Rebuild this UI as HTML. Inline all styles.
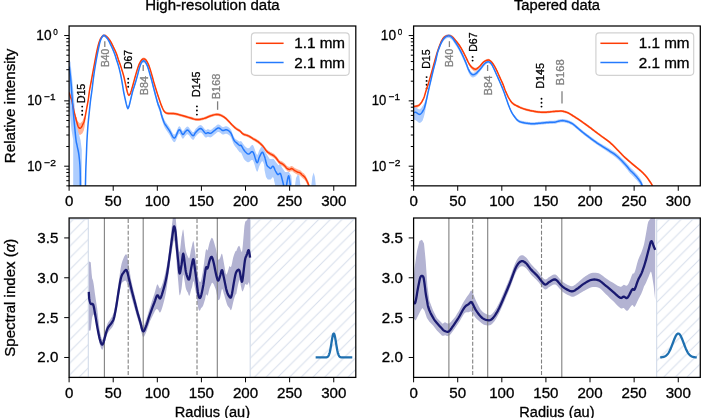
<!DOCTYPE html><html><head><meta charset="utf-8"><style>html,body{margin:0;padding:0;background:#fff;}svg{display:block;will-change:transform;}svg text{font-family:"Liberation Sans",sans-serif;}</style></head><body>
<svg width="701" height="418" viewBox="0 0 701 418">
<defs>
<clipPath id="ctl"><rect x="69.1" y="26" width="286.7" height="159.85"/></clipPath>
<clipPath id="ctr"><rect x="413.6" y="26" width="286.7" height="159.85"/></clipPath>
<clipPath id="cbl"><rect x="69.1" y="218" width="286.7" height="159.4"/></clipPath>
<clipPath id="cbr"><rect x="413.6" y="218" width="286.7" height="159.4"/></clipPath>
<pattern id="hatch" patternUnits="userSpaceOnUse" x="0.4" y="0" width="11.69" height="11.69">
<path d="M-1 12.69 L12.69 -1 M-1 1 L1 -1 M10.69 12.69 L12.69 10.69" stroke="#d6deeb" stroke-width="1.0" fill="none"/>
</pattern>
</defs>
<rect width="701" height="418" fill="#fff"/>
<circle cx="82.2" cy="106.6" r="0.95" fill="#000"/><circle cx="82.2" cy="110.7" r="0.95" fill="#000"/><circle cx="82.2" cy="114.8" r="0.95" fill="#000"/>
<line x1="104.8" y1="41.2" x2="104.8" y2="47" stroke="#808080" stroke-width="1.3"/>
<circle cx="128.2" cy="78.7" r="0.95" fill="#000"/><circle cx="128.2" cy="82.75" r="0.95" fill="#000"/><circle cx="128.2" cy="86.8" r="0.95" fill="#000"/>
<line x1="143.2" y1="65" x2="143.2" y2="71" stroke="#808080" stroke-width="1.3"/>
<circle cx="196.9" cy="106.4" r="0.95" fill="#000"/><circle cx="196.9" cy="110.5" r="0.95" fill="#000"/><circle cx="196.9" cy="114.6" r="0.95" fill="#000"/>
<line x1="217.6" y1="101.3" x2="217.6" y2="109.8" stroke="#808080" stroke-width="1.3"/>
<circle cx="426.6" cy="77.1" r="0.95" fill="#000"/><circle cx="426.6" cy="80.9" r="0.95" fill="#000"/><circle cx="426.6" cy="84.7" r="0.95" fill="#000"/><circle cx="426.6" cy="88.5" r="0.95" fill="#000"/>
<line x1="449.4" y1="41.2" x2="449.4" y2="47" stroke="#808080" stroke-width="1.3"/>
<circle cx="472.6" cy="56.9" r="0.95" fill="#000"/><circle cx="472.6" cy="60.6" r="0.95" fill="#000"/>
<line x1="487.6" y1="65" x2="487.6" y2="71" stroke="#808080" stroke-width="1.3"/>
<circle cx="541.5" cy="98.8" r="0.95" fill="#000"/><circle cx="541.5" cy="102.7" r="0.95" fill="#000"/><circle cx="541.5" cy="106.6" r="0.95" fill="#000"/>
<line x1="562" y1="91.3" x2="562" y2="103.4" stroke="#808080" stroke-width="1.3"/>
<g clip-path="url(#ctl)">
<path d="M75.3 117 L76.3 125 L77.3 130.8 L78.8 134.2 L80.4 134.7 L82.3 133.6 L83.8 130.6 L84.8 125.5 L85.6 118 L84 117 L82.5 121 L80 123.5 L77.5 121 L76.5 117 Z" fill="#ffb499"/>
<path d="M69.1 90.99 L69.29 91.6 L69.56 92.47 L69.88 93.47 L70.2 94.47 L70.5 95.35 L70.75 95.98 L70.99 96.45 L71.23 96.94 L71.49 97.63 L71.8 98.72 L72.18 100.38 L72.62 102.49 L73.07 104.78 L73.51 106.97 L73.9 108.81 L74.23 110.17 L74.52 111.27 L74.78 112.23 L75.04 113.13 L75.3 114.07 L75.56 115.02 L75.81 115.95 L76.06 116.85 L76.32 117.74 L76.6 118.63 L76.9 119.58 L77.22 120.65 L77.55 121.73 L77.88 122.7 L78.2 123.5 L78.52 124.11 L78.84 124.6 L79.15 124.96 L79.47 125.19 L79.8 125.3 L80.14 125.29 L80.48 125.17 L80.83 124.93 L81.17 124.61 L81.5 124.25 L81.82 123.81 L82.13 123.26 L82.44 122.67 L82.73 122.06 L83 121.5 L83.24 121.06 L83.46 120.68 L83.67 120.28 L83.88 119.79 L84.1 119.17 L84.34 118.36 L84.58 117.4 L84.83 116.37 L85.07 115.3 L85.3 114.27 L85.51 113.25 L85.71 112.22 L85.91 111.18 L86.1 110.11 L86.3 109.02 L86.5 107.93 L86.7 106.83 L86.91 105.73 L87.11 104.65 L87.3 103.6 L87.48 102.66 L87.64 101.83 L87.81 100.97 L87.99 99.96 L88.2 98.67 L88.45 96.97 L88.72 94.97 L89.01 92.82 L89.31 90.7 L89.6 88.77 L89.88 87.13 L90.16 85.65 L90.44 84.19 L90.75 82.62 L91.1 80.8 L91.5 78.64 L91.93 76.25 L92.39 73.74 L92.86 71.21 L93.3 68.79 L93.73 66.46 L94.16 64.14 L94.58 61.86 L94.99 59.63 L95.4 57.49 L95.79 55.43 L96.16 53.43 L96.54 51.5 L96.91 49.65 L97.3 47.89 L97.71 46.18 L98.13 44.54 L98.55 42.98 L98.98 41.55 L99.4 40.28 L99.82 39.19 L100.23 38.25 L100.64 37.43 L101.06 36.72 L101.5 36.08 L101.96 35.5 L102.43 35.01 L102.91 34.61 L103.4 34.33 L103.9 34.17 L104.4 34.17 L104.92 34.3 L105.44 34.54 L105.96 34.87 L106.5 35.27 L107.06 35.75 L107.63 36.34 L108.21 36.99 L108.78 37.68 L109.3 38.36 L109.78 39.04 L110.23 39.74 L110.66 40.46 L111.08 41.2 L111.5 41.96 L111.92 42.75 L112.32 43.58 L112.72 44.42 L113.12 45.25 L113.5 46.06 L113.88 46.82 L114.24 47.55 L114.6 48.28 L114.96 49.01 L115.3 49.75 L115.63 50.5 L115.95 51.24 L116.27 51.99 L116.58 52.79 L116.9 53.65 L117.22 54.61 L117.54 55.65 L117.87 56.73 L118.19 57.78 L118.5 58.75 L118.81 59.62 L119.12 60.44 L119.43 61.23 L119.72 61.99 L120 62.74 L120.24 63.42 L120.45 64.01 L120.66 64.63 L120.89 65.37 L121.2 66.34 L121.6 67.63 L122.07 69.15 L122.57 70.8 L123.06 72.46 L123.5 74.04 L123.89 75.54 L124.25 77.03 L124.58 78.5 L124.9 79.91 L125.2 81.23 L125.47 82.46 L125.72 83.6 L125.95 84.69 L126.17 85.72 L126.4 86.73 L126.62 87.73 L126.84 88.69 L127.06 89.62 L127.28 90.47 L127.5 91.23 L127.73 91.93 L127.97 92.57 L128.22 93.13 L128.46 93.56 L128.7 93.83 L128.94 93.9 L129.18 93.8 L129.43 93.58 L129.67 93.27 L129.9 92.93 L130.12 92.54 L130.34 92.08 L130.56 91.55 L130.78 90.97 L131 90.32 L131.23 89.61 L131.46 88.83 L131.7 88 L131.95 87.12 L132.2 86.22 L132.46 85.32 L132.71 84.41 L132.98 83.45 L133.27 82.4 L133.6 81.22 L133.97 79.86 L134.38 78.36 L134.81 76.78 L135.26 75.18 L135.7 73.61 L136.15 72.05 L136.62 70.44 L137.09 68.85 L137.56 67.35 L138 66.01 L138.42 64.84 L138.82 63.8 L139.21 62.86 L139.6 62 L140 61.21 L140.41 60.47 L140.82 59.8 L141.23 59.21 L141.63 58.71 L142 58.3 L142.34 58 L142.65 57.8 L142.96 57.67 L143.27 57.62 L143.6 57.6 L143.96 57.61 L144.33 57.67 L144.72 57.79 L145.11 57.99 L145.5 58.3 L145.89 58.7 L146.29 59.2 L146.7 59.79 L147.1 60.46 L147.5 61.19 L147.9 61.99 L148.29 62.84 L148.68 63.78 L149.08 64.82 L149.5 65.99 L149.94 67.31 L150.39 68.78 L150.86 70.34 L151.33 71.96 L151.8 73.58 L152.28 75.26 L152.76 77 L153.24 78.77 L153.72 80.51 L154.2 82.18 L154.67 83.76 L155.13 85.28 L155.58 86.76 L156.04 88.22 L156.5 89.68 L156.96 91.12 L157.41 92.54 L157.87 93.95 L158.33 95.36 L158.8 96.77 L159.29 98.22 L159.8 99.71 L160.3 101.17 L160.81 102.58 L161.3 103.87 L161.78 105.06 L162.24 106.18 L162.7 107.21 L163.16 108.15 L163.6 108.96 L164.03 109.64 L164.44 110.2 L164.86 110.65 L165.27 111.03 L165.7 111.36 L166.14 111.62 L166.57 111.79 L167.02 111.9 L167.49 111.98 L168 112.05 L168.53 112.11 L169.08 112.13 L169.66 112.13 L170.29 112.13 L171 112.15 L171.78 112.17 L172.62 112.19 L173.52 112.22 L174.48 112.3 L175.5 112.44 L176.57 112.66 L177.68 112.94 L178.86 113.27 L180.12 113.64 L181.5 114.03 L183.05 114.46 L184.74 114.95 L186.51 115.46 L188.26 115.96 L189.9 116.41 L191.42 116.86 L192.87 117.31 L194.28 117.73 L195.69 118.04 L197.1 118.2 L198.54 118.17 L200 117.99 L201.44 117.7 L202.85 117.35 L204.2 116.99 L205.47 116.57 L206.68 116.06 L207.85 115.53 L209.02 115.02 L210.2 114.57 L211.42 114.18 L212.66 113.79 L213.89 113.45 L215.08 113.2 L216.2 113.06 L217.24 113.05 L218.21 113.15 L219.14 113.33 L220.06 113.6 L221 113.95 L221.94 114.37 L222.87 114.85 L223.8 115.43 L224.77 116.12 L225.8 116.95 L226.94 118 L228.16 119.26 L229.4 120.6 L230.6 121.9 L231.7 123.03 L232.67 123.99 L233.55 124.85 L234.38 125.64 L235.18 126.36 L236 127.03 L236.83 127.61 L237.66 128.11 L238.48 128.56 L239.26 129.01 L240 129.52 L240.64 130.1 L241.2 130.73 L241.74 131.37 L242.35 131.98 L243.1 132.51 L244.03 132.95 L245.09 133.3 L246.21 133.63 L247.34 133.98 L248.4 134.4 L249.39 134.92 L250.36 135.48 L251.3 136.06 L252.25 136.65 L253.2 137.22 L254.18 137.77 L255.17 138.31 L256.15 138.86 L257.1 139.42 L258 140 L258.85 140.62 L259.67 141.28 L260.44 141.95 L261.16 142.6 L261.8 143.21 L262.33 143.74 L262.76 144.21 L263.15 144.68 L263.54 145.18 L264 145.75 L264.54 146.45 L265.11 147.24 L265.71 148.05 L266.32 148.82 L266.9 149.48 L267.45 149.99 L267.97 150.41 L268.51 150.77 L269.07 151.12 L269.7 151.51 L270.43 151.91 L271.23 152.31 L272.06 152.72 L272.87 153.15 L273.6 153.61 L274.25 154.1 L274.84 154.61 L275.4 155.15 L275.94 155.72 L276.5 156.34 L277.06 157.04 L277.62 157.83 L278.18 158.62 L278.74 159.36 L279.3 159.97 L279.88 160.4 L280.48 160.71 L281.07 160.96 L281.65 161.2 L282.2 161.5 L282.71 161.83 L283.2 162.17 L283.66 162.53 L284.13 162.91 L284.6 163.33 L285.08 163.84 L285.56 164.41 L286.04 165 L286.52 165.54 L287 165.97 L287.48 166.3 L287.96 166.56 L288.44 166.75 L288.92 166.87 L289.4 166.92 L289.87 166.82 L290.34 166.57 L290.8 166.29 L291.29 166.08 L291.8 166.06 L292.35 166.25 L292.93 166.61 L293.52 167.05 L294.12 167.5 L294.7 167.88 L295.27 168.2 L295.84 168.51 L296.41 168.8 L296.96 169.07 L297.5 169.31 L298.02 169.5 L298.54 169.63 L299.04 169.76 L299.52 169.91 L300 170.15 L300.45 170.47 L300.86 170.85 L301.28 171.27 L301.71 171.72 L302.2 172.19 L302.75 172.64 L303.33 173.06 L303.95 173.53 L304.57 174.13 L305.2 174.92 L305.86 176.02 L306.58 177.38 L307.28 178.83 L307.9 180.2 L308.4 181.34 L308.74 182.23 L308.97 183 L309.12 183.63 L309.21 184.14 L309.3 184.52 L309.3 190.48 L309.21 190.1 L309.12 189.59 L308.97 188.95 L308.74 188.17 L308.4 187.26 L307.9 186.1 L307.28 184.69 L306.58 183.21 L305.86 181.81 L305.2 180.68 L304.57 179.86 L303.95 179.23 L303.33 178.73 L302.75 178.27 L302.2 177.81 L301.71 177.31 L301.28 176.83 L300.86 176.39 L300.45 175.99 L300 175.65 L299.52 175.39 L299.04 175.21 L298.54 175.06 L298.02 174.9 L297.5 174.69 L296.96 174.42 L296.41 174.12 L295.84 173.8 L295.27 173.47 L294.7 173.12 L294.12 172.71 L293.52 172.23 L292.93 171.76 L292.35 171.37 L291.8 171.14 L291.29 171.15 L290.8 171.33 L290.34 171.59 L289.87 171.81 L289.4 171.88 L288.92 171.82 L288.44 171.67 L287.96 171.46 L287.48 171.17 L287 170.83 L286.52 170.37 L286.04 169.8 L285.56 169.19 L285.08 168.59 L284.6 168.06 L284.13 167.62 L283.66 167.21 L283.2 166.83 L282.71 166.47 L282.2 166.11 L281.65 165.79 L281.07 165.52 L280.48 165.24 L279.88 164.9 L279.3 164.43 L278.74 163.8 L278.18 163.03 L277.62 162.21 L277.06 161.39 L276.5 160.66 L275.94 160.02 L275.4 159.42 L274.84 158.85 L274.25 158.31 L273.6 157.79 L272.87 157.29 L272.06 156.82 L271.23 156.37 L270.43 155.93 L269.7 155.49 L269.07 155.08 L268.51 154.7 L267.97 154.31 L267.45 153.86 L266.9 153.32 L266.32 152.64 L265.71 151.84 L265.11 150.99 L264.54 150.17 L264 149.45 L263.54 148.85 L263.15 148.34 L262.76 147.85 L262.33 147.35 L261.8 146.79 L261.16 146.16 L260.44 145.47 L259.67 144.77 L258.85 144.07 L258 143.4 L257.1 142.77 L256.15 142.17 L255.17 141.57 L254.18 140.98 L253.2 140.38 L252.25 139.76 L251.3 139.12 L250.36 138.5 L249.39 137.91 L248.4 137.4 L247.34 136.97 L246.21 136.61 L245.09 136.28 L244.03 135.92 L243.1 135.49 L242.35 134.95 L241.74 134.34 L241.2 133.7 L240.64 133.07 L240 132.48 L239.26 131.97 L238.48 131.51 L237.66 131.06 L236.83 130.56 L236 129.97 L235.18 129.3 L234.38 128.58 L233.55 127.79 L232.67 126.93 L231.7 125.97 L230.6 124.83 L229.4 123.52 L228.16 122.18 L226.94 120.91 L225.8 119.85 L224.77 119.02 L223.8 118.33 L222.87 117.75 L221.94 117.26 L221 116.85 L220.06 116.49 L219.14 116.22 L218.21 116.03 L217.24 115.93 L216.2 115.94 L215.08 116.07 L213.89 116.32 L212.66 116.65 L211.42 117.03 L210.2 117.43 L209.02 117.86 L207.85 118.37 L206.68 118.9 L205.47 119.4 L204.2 119.81 L202.85 120.18 L201.44 120.52 L200 120.8 L198.54 120.97 L197.1 121 L195.69 120.84 L194.28 120.52 L192.87 120.1 L191.42 119.64 L189.9 119.19 L188.26 118.73 L186.51 118.23 L184.74 117.71 L183.05 117.21 L181.5 116.77 L180.12 116.38 L178.86 116.01 L177.68 115.67 L176.57 115.39 L175.5 115.16 L174.48 115.01 L173.52 114.93 L172.62 114.9 L171.78 114.88 L171 114.85 L170.29 114.83 L169.66 114.82 L169.08 114.82 L168.53 114.8 L168 114.75 L167.49 114.67 L167.02 114.59 L166.57 114.47 L166.14 114.3 L165.7 114.04 L165.27 113.71 L164.86 113.33 L164.44 112.88 L164.03 112.32 L163.6 111.64 L163.16 110.82 L162.7 109.89 L162.24 108.85 L161.78 107.73 L161.3 106.53 L160.81 105.24 L160.3 103.84 L159.8 102.37 L159.29 100.88 L158.8 99.43 L158.33 98.01 L157.87 96.61 L157.41 95.2 L156.96 93.77 L156.5 92.32 L156.04 90.87 L155.58 89.4 L155.13 87.92 L154.67 86.4 L154.2 84.82 L153.72 83.15 L153.24 81.41 L152.76 79.64 L152.28 77.89 L151.8 76.22 L151.33 74.59 L150.86 72.97 L150.39 71.4 L149.94 69.94 L149.5 68.61 L149.08 67.44 L148.68 66.4 L148.29 65.46 L147.9 64.6 L147.5 63.81 L147.1 63.07 L146.7 62.4 L146.29 61.82 L145.89 61.31 L145.5 60.9 L145.11 60.6 L144.72 60.4 L144.33 60.28 L143.96 60.22 L143.6 60.2 L143.27 60.22 L142.96 60.27 L142.65 60.39 L142.34 60.59 L142 60.9 L141.63 61.31 L141.23 61.81 L140.82 62.39 L140.41 63.06 L140 63.79 L139.6 64.59 L139.21 65.44 L138.82 66.38 L138.42 67.42 L138 68.59 L137.56 69.93 L137.09 71.43 L136.62 73.01 L136.15 74.62 L135.7 76.19 L135.26 77.75 L134.81 79.35 L134.38 80.93 L133.97 82.43 L133.6 83.78 L133.27 84.96 L132.98 86.01 L132.71 86.97 L132.46 87.88 L132.2 88.78 L131.95 89.68 L131.7 90.55 L131.46 91.39 L131.23 92.17 L131 92.88 L130.78 93.52 L130.56 94.11 L130.34 94.63 L130.12 95.09 L129.9 95.47 L129.67 95.82 L129.43 96.12 L129.18 96.35 L128.94 96.44 L128.7 96.37 L128.46 96.11 L128.22 95.67 L127.97 95.12 L127.73 94.47 L127.5 93.77 L127.28 93.01 L127.06 92.15 L126.84 91.23 L126.62 90.26 L126.4 89.27 L126.17 88.26 L125.95 87.22 L125.72 86.14 L125.47 84.99 L125.2 83.77 L124.9 82.44 L124.58 81.03 L124.25 79.56 L123.89 78.06 L123.5 76.56 L123.06 74.99 L122.57 73.32 L122.07 71.67 L121.6 70.14 L121.2 68.86 L120.89 67.88 L120.66 67.14 L120.45 66.53 L120.24 65.94 L120 65.26 L119.72 64.5 L119.43 63.74 L119.12 62.95 L118.81 62.13 L118.5 61.25 L118.19 60.28 L117.87 59.23 L117.54 58.16 L117.22 57.11 L116.9 56.15 L116.58 55.29 L116.27 54.49 L115.95 53.74 L115.63 53 L115.3 52.25 L114.96 51.5 L114.6 50.77 L114.24 50.04 L113.88 49.31 L113.5 48.54 L113.12 47.74 L112.72 46.91 L112.32 46.07 L111.92 45.24 L111.5 44.44 L111.08 43.68 L110.66 42.94 L110.23 42.22 L109.78 41.52 L109.3 40.84 L108.78 40.15 L108.21 39.46 L107.63 38.81 L107.06 38.22 L106.5 37.73 L105.96 37.33 L105.44 37 L104.92 36.76 L104.4 36.62 L103.9 36.63 L103.4 36.78 L102.91 37.06 L102.43 37.45 L101.96 37.95 L101.5 38.52 L101.06 39.16 L100.64 39.87 L100.23 40.68 L99.82 41.62 L99.4 42.72 L98.98 43.99 L98.55 45.42 L98.13 46.97 L97.71 48.61 L97.3 50.31 L96.91 52.08 L96.54 53.93 L96.16 55.85 L95.79 57.85 L95.4 59.91 L94.99 62.05 L94.58 64.27 L94.16 66.56 L93.73 68.87 L93.3 71.21 L92.86 73.62 L92.39 76.15 L91.93 78.66 L91.5 81.05 L91.1 83.2 L90.75 85.03 L90.44 86.59 L90.16 88.05 L89.88 89.54 L89.6 91.23 L89.31 93.2 L89.01 95.37 L88.72 97.56 L88.45 99.6 L88.2 101.33 L87.99 102.66 L87.81 103.7 L87.64 104.58 L87.48 105.44 L87.3 106.4 L87.11 107.49 L86.91 108.6 L86.7 109.72 L86.5 110.85 L86.3 111.98 L86.1 113.1 L85.91 114.28 L85.71 115.55 L85.51 116.82 L85.3 118.08 L85.07 119.39 L84.83 120.73 L84.58 122.06 L84.34 123.3 L84.1 124.38 L83.88 125.27 L83.67 125.99 L83.46 126.64 L83.24 127.28 L83 128 L82.73 128.83 L82.44 129.73 L82.13 130.63 L81.82 131.49 L81.5 132.25 L81.17 132.94 L80.83 133.6 L80.48 134.18 L80.14 134.65 L79.8 134.7 L79.47 134.43 L79.15 134.03 L78.84 133.52 L78.52 132.87 L78.2 132.1 L77.88 131.14 L77.55 130 L77.22 128.76 L76.9 127.47 L76.6 126.17 L76.32 124.95 L76.06 123.75 L75.81 122.56 L75.56 121.35 L75.3 120.08 L75.04 118.84 L74.78 117.64 L74.52 116.37 L74.23 114.93 L73.9 113.28 L73.51 111.33 L73.07 109 L72.62 106.57 L72.18 104.33 L71.8 102.56 L71.49 101.38 L71.23 100.6 L70.99 100.04 L70.75 99.51 L70.5 98.8 L70.2 97.83 L69.88 96.73 L69.56 95.64 L69.29 94.69 L69.1 94.02 Z" fill="#ffb499"/>
<path d="M69.1 60 L69.1 100 L70 115 L71.5 130 L73.2 140 L73.2 187 L81.8 187 L81.8 150 L80.5 140 L77.3 128 L75.2 115 L74.2 100 L72.8 85 L71.5 72 L70.5 62 Z" fill="#aecdfe"/>
<path d="M264 150 L266 153 L269.7 159 L273.6 159 L278.4 165.2 L280.8 165.7 L285.1 172 L288.9 172 L291.3 175.8 L292.3 187 L275.5 187 L274 180 L273.6 175.8 L270.7 179.6 L267.8 179.6 L266 177 L264.5 170 L264 160 Z" fill="#aecdfe"/>
<path d="M294.8 187 L296 178 L297.8 174.6 L299.3 176 L300.6 187 Z" fill="#aecdfe"/>
<path d="M311.2 187 L312.3 177 L313.6 172.6 L314.9 177 L316 187 Z" fill="#aecdfe"/>
<path d="M69.3 63.53 L69.44 64.66 L69.63 66.23 L69.85 68.09 L70.08 70.1 L70.3 72.12 L70.5 74.13 L70.7 76.23 L70.9 78.44 L71.1 80.76 L71.3 83.21 L71.5 85.87 L71.7 88.73 L71.9 91.66 L72.1 94.56 L72.3 97.3 L72.5 99.83 L72.69 102.23 L72.89 104.58 L73.09 106.94 L73.3 109.39 L73.52 111.92 L73.75 114.46 L73.99 117.06 L74.24 119.73 L74.5 122.5 L74.79 125.56 L75.1 128.88 L75.42 132.19 L75.73 135.21 L76 137.64 L76.22 139.25 L76.39 140.24 L76.56 140.95 L76.75 141.73 L77 142.93 L77.33 144.54 L77.73 146.35 L78.15 148.34 L78.55 150.49 L78.9 152.8 L79.2 155.24 L79.47 157.84 L79.72 160.6 L79.93 163.55 L80.1 166.7 L80.22 170.44 L80.3 174.76 L80.34 179.09 L80.37 182.86 L80.4 185.5 L80.4 189.5 L80.37 186.86 L80.34 183.09 L80.3 178.76 L80.22 174.44 L80.1 170.7 L79.93 167.55 L79.72 164.62 L79.47 161.88 L79.2 159.32 L78.9 156.9 L78.55 154.63 L78.15 152.51 L77.73 150.56 L77.33 148.79 L77 147.2 L76.75 146.03 L76.56 145.27 L76.39 144.57 L76.22 143.6 L76 142 L75.73 139.6 L75.42 136.61 L75.1 133.33 L74.79 130.03 L74.5 127 L74.24 124.26 L73.99 121.61 L73.75 119.03 L73.52 116.5 L73.3 114 L73.09 111.57 L72.89 109.22 L72.69 106.9 L72.5 104.51 L72.3 102 L72.1 99.28 L71.9 96.4 L71.7 93.48 L71.5 90.64 L71.3 88 L71.1 85.57 L70.9 83.26 L70.7 81.08 L70.5 78.99 L70.3 77 L70.08 75 L69.85 73.01 L69.63 71.17 L69.44 69.62 L69.3 68.5 Z" fill="#aecdfe"/>
<path d="M85.4 186.3 L85.45 183.88 L85.52 180.44 L85.61 176.46 L85.7 172.42 L85.8 168.8 L85.91 165.64 L86.03 162.62 L86.15 159.68 L86.28 156.76 L86.4 153.8 L86.51 150.8 L86.62 147.8 L86.73 144.8 L86.85 141.8 L87 138.8 L87.17 135.77 L87.36 132.7 L87.56 129.66 L87.77 126.67 L88 123.8 L88.24 121.06 L88.5 118.41 L88.77 115.83 L89.04 113.3 L89.3 110.8 L89.56 108.3 L89.82 105.83 L90.07 103.41 L90.33 101.05 L90.6 98.79 L90.88 96.66 L91.16 94.64 L91.45 92.68 L91.73 90.74 L92 88.77 L92.25 86.77 L92.48 84.77 L92.72 82.76 L92.95 80.76 L93.2 78.76 L93.46 76.77 L93.72 74.81 L93.99 72.84 L94.28 70.83 L94.6 68.74 L94.95 66.53 L95.32 64.22 L95.72 61.88 L96.11 59.59 L96.5 57.41 L96.88 55.35 L97.27 53.34 L97.65 51.41 L98.03 49.56 L98.4 47.79 L98.75 46.08 L99.09 44.42 L99.43 42.86 L99.76 41.43 L100.1 40.17 L100.44 39.1 L100.78 38.2 L101.11 37.44 L101.45 36.76 L101.8 36.14 L102.15 35.56 L102.51 35.05 L102.87 34.62 L103.23 34.31 L103.6 34.12 L103.96 34.07 L104.32 34.15 L104.68 34.34 L105.07 34.63 L105.5 34.99 L105.99 35.47 L106.52 36.07 L107.08 36.75 L107.61 37.46 L108.1 38.16 L108.52 38.86 L108.91 39.58 L109.27 40.32 L109.63 41.07 L110 41.83 L110.38 42.61 L110.77 43.42 L111.16 44.23 L111.54 45.03 L111.9 45.81 L112.24 46.56 L112.57 47.29 L112.88 48.01 L113.19 48.74 L113.5 49.49 L113.8 50.23 L114.1 50.97 L114.4 51.72 L114.7 52.51 L115 53.37 L115.32 54.32 L115.64 55.34 L115.96 56.4 L116.28 57.45 L116.6 58.45 L116.91 59.39 L117.23 60.3 L117.53 61.2 L117.83 62.07 L118.1 62.93 L118.34 63.71 L118.54 64.42 L118.74 65.14 L118.95 65.94 L119.2 66.91 L119.49 68.07 L119.81 69.38 L120.15 70.78 L120.48 72.23 L120.8 73.69 L121.09 75.16 L121.38 76.68 L121.66 78.23 L121.93 79.8 L122.2 81.37 L122.47 83 L122.74 84.69 L123.01 86.36 L123.26 87.94 L123.5 89.35 L123.72 90.55 L123.92 91.59 L124.11 92.53 L124.3 93.42 L124.5 94.34 L124.7 95.26 L124.89 96.15 L125.09 97.02 L125.29 97.91 L125.5 98.83 L125.73 99.83 L125.97 100.89 L126.21 101.94 L126.46 102.94 L126.7 103.81 L126.94 104.61 L127.18 105.39 L127.41 106.06 L127.65 106.52 L127.9 106.69 L128.15 106.53 L128.41 106.08 L128.67 105.42 L128.93 104.63 L129.2 103.78 L129.46 102.85 L129.72 101.82 L129.99 100.67 L130.28 99.41 L130.6 98.06 L130.97 96.51 L131.38 94.76 L131.8 92.95 L132.22 91.23 L132.6 89.73 L132.95 88.51 L133.28 87.46 L133.59 86.52 L133.9 85.63 L134.2 84.71 L134.48 83.82 L134.75 82.99 L135.01 82.16 L135.28 81.25 L135.6 80.19 L135.96 78.94 L136.36 77.55 L136.77 76.08 L137.19 74.56 L137.6 73.07 L138 71.53 L138.4 69.92 L138.81 68.31 L139.21 66.79 L139.6 65.44 L139.99 64.24 L140.37 63.16 L140.74 62.19 L141.12 61.34 L141.5 60.61 L141.88 60.02 L142.26 59.56 L142.64 59.22 L143.02 59 L143.4 58.89 L143.77 58.88 L144.14 58.99 L144.51 59.22 L144.89 59.57 L145.3 60.06 L145.74 60.71 L146.2 61.49 L146.68 62.41 L147.15 63.43 L147.6 64.53 L148.04 65.77 L148.46 67.16 L148.88 68.63 L149.3 70.1 L149.7 71.5 L150.1 72.84 L150.5 74.12 L150.89 75.39 L151.26 76.62 L151.6 77.81 L151.91 78.92 L152.18 79.96 L152.44 80.98 L152.71 82.03 L153 83.14 L153.32 84.34 L153.66 85.61 L154.01 86.9 L154.36 88.19 L154.7 89.44 L155.02 90.65 L155.34 91.84 L155.66 93.01 L155.98 94.18 L156.3 95.34 L156.63 96.5 L156.95 97.66 L157.29 98.8 L157.63 99.93 L158 101.04 L158.41 102.12 L158.84 103.17 L159.29 104.2 L159.72 105.24 L160.1 106.3 L160.42 107.4 L160.71 108.53 L160.97 109.64 L161.22 110.73 L161.5 111.75 L161.79 112.71 L162.08 113.62 L162.37 114.49 L162.68 115.35 L163 116.21 L163.29 117.03 L163.55 117.79 L163.85 118.57 L164.24 119.44 L164.8 120.46 L165.57 121.67 L166.5 123.04 L167.54 124.49 L168.59 125.97 L169.6 127.41 L170.56 129.08 L171.52 131.02 L172.49 132.84 L173.45 134.16 L174.4 134.6 L175.36 133.71 L176.34 131.73 L177.3 129.36 L178.23 127.28 L179.1 126.2 L179.9 126.44 L180.66 127.54 L181.37 129.01 L182.05 130.33 L182.7 131 L183.31 130.87 L183.89 130.28 L184.43 129.44 L184.97 128.61 L185.5 128 L186 127.54 L186.45 127.07 L186.91 126.72 L187.44 126.59 L188.1 126.8 L188.95 127.6 L189.95 128.92 L191 130.37 L192.02 131.59 L192.9 132.2 L193.59 132.06 L194.14 131.41 L194.66 130.47 L195.21 129.46 L195.9 128.6 L196.75 127.75 L197.7 126.76 L198.7 125.84 L199.72 125.18 L200.7 125 L201.68 125.51 L202.7 126.57 L203.69 127.87 L204.61 129.05 L205.4 129.8 L206.02 130.01 L206.5 129.89 L206.91 129.61 L207.32 129.33 L207.8 129.2 L208.35 129.3 L208.92 129.52 L209.52 129.75 L210.15 129.88 L210.8 129.8 L211.49 129.45 L212.21 128.92 L212.96 128.27 L213.72 127.6 L214.5 127 L215.29 126.38 L216.11 125.69 L216.93 125.05 L217.77 124.58 L218.6 124.4 L219.44 124.66 L220.3 125.27 L221.16 126.02 L222 126.71 L222.8 127.1 L223.55 127.09 L224.25 126.81 L224.95 126.45 L225.65 126.19 L226.4 126.2 L227.21 126.48 L228.08 126.9 L228.95 127.49 L229.8 128.25 L230.6 129.25 L231.34 130.6 L232.04 132.27 L232.71 134.04 L233.36 135.7 L234 137.03 L234.61 137.97 L235.2 138.65 L235.77 139.18 L236.33 139.54 L236.9 139.88 L237.49 140.28 L238.09 140.69 L238.68 141.07 L239.22 141.38 L239.7 141.57 L240.05 141.56 L240.31 141.34 L240.53 141.1 L240.81 141 L241.2 141.2 L241.74 141.82 L242.36 142.74 L243.05 143.81 L243.77 144.84 L244.5 145.72 L245.25 146.47 L246.05 147.2 L246.85 147.81 L247.65 148.23 L248.4 148.37 L249.12 148.07 L249.83 147.39 L250.51 146.51 L251.14 145.7 L251.7 145.21 L252.15 145.01 L252.49 144.92 L252.8 145.04 L253.15 145.43 L253.6 146.17 L254.2 147.63 L254.9 149.75 L255.64 152 L256.36 153.83 L257 154.7 L257.54 154.73 L258.01 153.87 L258.45 152.53 L258.9 151.09 L259.4 149.96 L259.96 149.02 L260.56 148 L261.17 147.09 L261.76 146.47 L262.3 146.16 L262.81 146.4 L263.29 147.17 L263.75 148.22 L264.15 149.31 L264.5 150.19 L264.75 150.8 L264.92 151.3 L265.06 151.79 L265.2 152.35 L265.4 153.07 L265.66 154.07 L265.94 155.27 L266.24 156.53 L266.56 157.68 L266.9 158.59 L267.25 159.19 L267.63 159.6 L268.02 159.88 L268.41 160.11 L268.8 160.35 L269.17 160.65 L269.54 160.96 L269.9 161.22 L270.29 161.34 L270.7 161.28 L271.15 160.87 L271.62 160.16 L272.12 159.39 L272.61 158.81 L273.1 158.68 L273.58 159.13 L274.06 160 L274.54 161.07 L275.02 162.17 L275.5 163.08 L275.98 163.88 L276.46 164.63 L276.94 165.29 L277.42 165.8 L277.9 166.06 L278.39 165.87 L278.88 165.29 L279.38 164.61 L279.85 164.14 L280.3 164.17 L280.72 164.83 L281.12 165.91 L281.5 167.24 L281.86 168.61 L282.2 169.83 L282.53 170.94 L282.84 172.06 L283.14 173.19 L283.39 174.27 L283.6 175.2 L283.75 175.98 L283.85 176.66 L283.92 177.22 L283.96 177.66 L284 178 L284 198 L283.96 197.66 L283.92 197.22 L283.85 196.66 L283.75 195.98 L283.6 195.2 L283.39 194.27 L283.14 193.19 L282.84 192.06 L282.53 190.94 L282.2 189.83 L281.86 188.61 L281.5 187.24 L281.12 185.91 L280.72 184.83 L280.3 184.17 L279.85 184.14 L279.38 184.61 L278.88 185.29 L278.39 185.87 L277.9 186.06 L277.42 185.8 L276.94 185.29 L276.46 184.63 L275.98 183.87 L275.5 182.83 L275.02 181.68 L274.54 180.34 L274.06 179.03 L273.58 177.92 L273.1 177.23 L272.61 177.12 L272.12 177.44 L271.62 177.97 L271.15 178.45 L270.7 178.63 L270.29 178.49 L269.9 178.19 L269.54 177.84 L269.17 177.44 L268.8 177.05 L268.41 176.71 L268.02 176.39 L267.63 176.01 L267.25 175.51 L266.9 174.81 L266.56 173.82 L266.24 172.59 L265.94 171.26 L265.66 169.98 L265.4 168.93 L265.2 168.15 L265.06 167.55 L264.92 167.03 L264.75 166.48 L264.5 165.81 L264.15 164.85 L263.75 163.66 L263.29 162.49 L262.81 161.6 L262.3 161.24 L261.76 161.56 L261.17 162.42 L260.56 163.58 L259.96 164.84 L259.4 166 L258.9 167.33 L258.45 168.94 L258.01 170.47 L257.54 171.52 L257 171.7 L256.36 170.55 L255.64 168.42 L254.9 165.85 L254.2 163.43 L253.6 161.71 L253.15 160.78 L252.8 160.24 L252.49 159.99 L252.15 159.93 L251.7 159.94 L251.14 160.18 L250.51 160.73 L249.83 161.39 L249.12 162.07 L248.4 162.37 L247.65 162.23 L246.85 161.81 L246.05 161.2 L245.25 160.47 L244.5 159.72 L243.77 158.67 L243.05 157.09 L242.36 155.52 L241.74 154.12 L241.2 153.1 L240.81 152.6 L240.53 152.5 L240.31 152.57 L240.05 152.6 L239.7 152.35 L239.22 151.79 L238.68 151.08 L238.09 150.26 L237.49 149.39 L236.9 148.55 L236.33 147.79 L235.77 147.16 L235.2 146.58 L234.61 145.85 L234 144.87 L233.36 143.48 L232.71 141.77 L232.04 139.94 L231.34 138.21 L230.6 136.8 L229.8 135.75 L228.95 134.99 L228.08 134.41 L227.21 133.99 L226.4 133.71 L225.65 133.7 L224.95 133.97 L224.25 134.33 L223.55 134.61 L222.8 134.62 L222 134.23 L221.16 133.55 L220.3 132.8 L219.44 132.19 L218.6 131.94 L217.77 132.12 L216.93 132.59 L216.11 133.24 L215.29 133.93 L214.5 134.55 L213.72 135.16 L212.96 135.83 L212.21 136.47 L211.49 137.02 L210.8 137.36 L210.15 137.44 L209.52 137.32 L208.92 137.09 L208.35 136.87 L207.8 136.77 L207.32 136.91 L206.91 137.19 L206.5 137.47 L206.02 137.59 L205.4 137.38 L204.61 136.64 L203.69 135.45 L202.7 134.17 L201.68 133.1 L200.7 132.6 L199.72 132.78 L198.7 133.44 L197.7 134.36 L196.75 135.36 L195.9 136.21 L195.21 137.08 L194.66 138.09 L194.14 139.03 L193.59 139.68 L192.9 139.82 L192.02 139.22 L191 138 L189.95 136.55 L188.95 135.24 L188.1 134.44 L187.44 134.23 L186.91 134.36 L186.45 134.72 L186 135.19 L185.5 135.65 L184.97 136.26 L184.43 137.1 L183.89 137.93 L183.31 138.53 L182.7 138.66 L182.05 137.99 L181.37 136.67 L180.66 135.21 L179.9 134.11 L179.1 133.87 L178.23 134.96 L177.3 137.03 L176.34 139.41 L175.36 141.39 L174.4 142.29 L173.45 141.85 L172.49 140.53 L171.52 138.72 L170.56 136.78 L169.6 135.07 L168.59 133.53 L167.54 131.95 L166.5 130.39 L165.57 128.93 L164.8 127.64 L164.24 126.56 L163.85 125.66 L163.55 124.85 L163.29 124.06 L163 123.21 L162.68 122.32 L162.37 121.43 L162.08 120.53 L161.79 119.59 L161.5 118.61 L161.22 117.55 L160.97 116.44 L160.71 115.3 L160.42 114.15 L160.1 113.01 L159.72 111.86 L159.29 110.71 L158.84 109.56 L158.41 108.39 L158 107.2 L157.63 105.99 L157.29 104.77 L156.95 103.54 L156.63 102.29 L156.3 101.05 L155.98 99.8 L155.66 98.54 L155.34 97.28 L155.02 96 L154.7 94.7 L154.36 93.36 L154.01 91.98 L153.66 90.6 L153.32 89.24 L153 87.95 L152.71 86.76 L152.44 85.64 L152.18 84.55 L151.91 83.43 L151.6 82.24 L151.26 80.96 L150.89 79.63 L150.5 78.26 L150.1 76.86 L149.7 75.5 L149.3 74.08 L148.88 72.6 L148.46 71.12 L148.04 69.72 L147.6 68.47 L147.15 67.35 L146.68 66.32 L146.2 65.39 L145.74 64.59 L145.3 63.94 L144.89 63.43 L144.51 63.07 L144.14 62.83 L143.77 62.72 L143.4 62.71 L143.02 62.81 L142.64 63.02 L142.26 63.35 L141.88 63.81 L141.5 64.39 L141.12 65.1 L140.74 65.94 L140.37 66.9 L139.99 67.98 L139.6 69.16 L139.21 70.5 L138.81 72.01 L138.4 73.61 L138 75.21 L137.6 76.73 L137.19 78.22 L136.77 79.72 L136.36 81.19 L135.96 82.57 L135.6 83.81 L135.28 84.86 L135.01 85.76 L134.75 86.59 L134.48 87.4 L134.2 88.29 L133.9 89.2 L133.59 90.09 L133.28 91.02 L132.95 92.05 L132.6 93.27 L132.22 94.75 L131.8 96.46 L131.38 98.26 L130.97 100 L130.6 101.54 L130.28 102.89 L129.99 104.13 L129.72 105.28 L129.46 106.31 L129.2 107.22 L128.93 108.07 L128.67 108.86 L128.41 109.5 L128.15 109.94 L127.9 110.11 L127.65 109.93 L127.41 109.46 L127.18 108.79 L126.94 108 L126.7 107.19 L126.46 106.31 L126.21 105.31 L125.97 104.24 L125.73 103.18 L125.5 102.17 L125.29 101.25 L125.09 100.36 L124.89 99.48 L124.7 98.59 L124.5 97.66 L124.3 96.74 L124.11 95.83 L123.92 94.89 L123.72 93.85 L123.5 92.65 L123.26 91.23 L123.01 89.64 L122.74 87.96 L122.47 86.26 L122.2 84.63 L121.93 83.05 L121.66 81.48 L121.38 79.92 L121.09 78.39 L120.8 76.91 L120.48 75.44 L120.15 73.98 L119.81 72.57 L119.49 71.26 L119.2 70.09 L118.95 69.11 L118.74 68.31 L118.54 67.58 L118.34 66.87 L118.1 66.07 L117.83 65.21 L117.53 64.33 L117.23 63.43 L116.91 62.51 L116.6 61.55 L116.28 60.55 L115.96 59.49 L115.64 58.42 L115.32 57.39 L115 56.43 L114.7 55.57 L114.4 54.77 L114.1 54.01 L113.8 53.27 L113.5 52.51 L113.19 51.76 L112.88 51.03 L112.57 50.29 L112.24 49.55 L111.9 48.79 L111.54 48 L111.16 47.19 L110.77 46.37 L110.38 45.56 L110 44.77 L109.63 43.99 L109.27 43.23 L108.91 42.48 L108.52 41.75 L108.1 41.04 L107.61 40.33 L107.08 39.6 L106.52 38.91 L105.99 38.3 L105.5 37.81 L105.07 37.43 L104.68 37.13 L104.32 36.93 L103.96 36.84 L103.6 36.88 L103.23 37.06 L102.87 37.37 L102.51 37.78 L102.15 38.29 L101.8 38.86 L101.45 39.47 L101.11 40.13 L100.78 40.89 L100.44 41.78 L100.1 42.83 L99.76 44.09 L99.43 45.51 L99.09 47.06 L98.75 48.71 L98.4 50.41 L98.03 52.17 L97.65 54.02 L97.27 55.94 L96.88 57.93 L96.5 59.99 L96.11 62.15 L95.72 64.44 L95.32 66.76 L94.95 69.06 L94.6 71.26 L94.28 73.34 L93.99 75.35 L93.72 77.31 L93.46 79.27 L93.2 81.24 L92.95 83.24 L92.72 85.24 L92.48 87.23 L92.25 89.23 L92 91.23 L91.73 93.19 L91.45 95.12 L91.16 97.07 L90.88 99.08 L90.6 101.21 L90.33 103.46 L90.07 105.81 L89.82 108.23 L89.56 110.7 L89.3 113.2 L89.04 115.7 L88.77 118.23 L88.5 120.81 L88.24 123.46 L88 126.2 L87.77 129.07 L87.56 132.06 L87.36 135.1 L87.17 138.17 L87 141.2 L86.85 144.2 L86.73 147.2 L86.62 150.2 L86.51 153.2 L86.4 156.2 L86.28 159.16 L86.15 162.08 L86.03 165.02 L85.91 168.04 L85.8 171.2 L85.7 174.82 L85.61 178.86 L85.52 182.84 L85.45 186.28 L85.4 188.7 Z" fill="#aecdfe"/>
<path d="M286.3 186.5 L286.36 185.86 L286.44 184.97 L286.54 183.9 L286.69 182.72 L286.9 181.5 L287.19 179.94 L287.54 177.98 L287.94 176.09 L288.33 174.71 L288.7 174.3 L289.05 175.22 L289.42 177.18 L289.76 179.62 L290.07 181.98 L290.3 183.7 L290.45 184.73 L290.53 185.43 L290.56 185.9 L290.58 186.22 L290.6 186.5 L290.6 189.5 L290.58 189.22 L290.56 188.9 L290.53 188.43 L290.45 187.73 L290.3 186.7 L290.07 184.98 L289.76 182.62 L289.42 180.18 L289.05 178.22 L288.7 177.3 L288.33 177.71 L287.94 179.09 L287.54 180.98 L287.19 182.94 L286.9 184.5 L286.69 185.72 L286.54 186.9 L286.44 187.97 L286.36 188.86 L286.3 189.5 Z" fill="#aecdfe"/>
<path d="M69.1 92.5 L69.29 93.13 L69.56 94.02 L69.88 95.06 L70.2 96.09 L70.5 97 L70.75 97.66 L70.99 98.15 L71.23 98.66 L71.49 99.38 L71.8 100.5 L72.18 102.2 L72.62 104.35 L73.07 106.68 L73.51 108.93 L73.9 110.8 L74.23 112.25 L74.52 113.44 L74.78 114.49 L75.04 115.48 L75.3 116.5 L75.56 117.54 L75.81 118.55 L76.06 119.53 L76.32 120.51 L76.6 121.5 L76.9 122.55 L77.22 123.65 L77.55 124.73 L77.88 125.7 L78.2 126.5 L78.52 127.11 L78.84 127.6 L79.15 127.96 L79.47 128.19 L79.8 128.3 L80.14 128.27 L80.48 128.08 L80.83 127.79 L81.17 127.42 L81.5 127 L81.82 126.5 L82.13 125.91 L82.44 125.26 L82.73 124.61 L83 124 L83.24 123.48 L83.46 123.02 L83.67 122.55 L83.88 122 L84.1 121.3 L84.34 120.41 L84.58 119.38 L84.83 118.26 L85.07 117.11 L85.3 116 L85.51 114.91 L85.71 113.81 L85.91 112.71 L86.1 111.6 L86.3 110.5 L86.5 109.39 L86.7 108.28 L86.91 107.16 L87.11 106.07 L87.3 105 L87.48 104.05 L87.64 103.2 L87.81 102.34 L87.99 101.31 L88.2 100 L88.45 98.29 L88.72 96.26 L89.01 94.1 L89.31 91.95 L89.6 90 L89.88 88.34 L90.16 86.85 L90.44 85.39 L90.75 83.82 L91.1 82 L91.5 79.84 L91.93 77.45 L92.39 74.94 L92.86 72.42 L93.3 70 L93.73 67.67 L94.16 65.35 L94.58 63.06 L94.99 60.84 L95.4 58.7 L95.79 56.64 L96.16 54.64 L96.54 52.71 L96.91 50.86 L97.3 49.1 L97.71 47.4 L98.13 45.75 L98.55 44.2 L98.98 42.77 L99.4 41.5 L99.82 40.41 L100.23 39.46 L100.64 38.65 L101.06 37.94 L101.5 37.3 L101.96 36.72 L102.43 36.23 L102.91 35.83 L103.4 35.55 L103.9 35.4 L104.4 35.4 L104.92 35.53 L105.44 35.77 L105.96 36.1 L106.5 36.5 L107.06 36.98 L107.63 37.57 L108.21 38.23 L108.78 38.92 L109.3 39.6 L109.78 40.28 L110.23 40.98 L110.66 41.7 L111.08 42.44 L111.5 43.2 L111.92 43.99 L112.32 44.82 L112.72 45.66 L113.12 46.5 L113.5 47.3 L113.88 48.06 L114.24 48.8 L114.6 49.52 L114.96 50.25 L115.3 51 L115.63 51.75 L115.95 52.49 L116.27 53.24 L116.58 54.04 L116.9 54.9 L117.22 55.86 L117.54 56.91 L117.87 57.98 L118.19 59.03 L118.5 60 L118.81 60.88 L119.12 61.7 L119.43 62.48 L119.72 63.24 L120 64 L120.24 64.68 L120.45 65.27 L120.66 65.88 L120.89 66.62 L121.2 67.6 L121.6 68.89 L122.07 70.41 L122.57 72.06 L123.06 73.73 L123.5 75.3 L123.89 76.8 L124.25 78.3 L124.58 79.77 L124.9 81.18 L125.2 82.5 L125.47 83.72 L125.72 84.87 L125.95 85.95 L126.17 86.99 L126.4 88 L126.62 88.99 L126.84 89.96 L127.06 90.88 L127.28 91.74 L127.5 92.5 L127.73 93.2 L127.97 93.84 L128.22 94.4 L128.46 94.83 L128.7 95.1 L128.94 95.17 L129.18 95.07 L129.43 94.85 L129.67 94.54 L129.9 94.2 L130.12 93.81 L130.34 93.35 L130.56 92.83 L130.78 92.24 L131 91.6 L131.23 90.89 L131.46 90.11 L131.7 89.28 L131.95 88.4 L132.2 87.5 L132.46 86.6 L132.71 85.69 L132.98 84.73 L133.27 83.68 L133.6 82.5 L133.97 81.15 L134.38 79.65 L134.81 78.06 L135.26 76.46 L135.7 74.9 L136.15 73.34 L136.62 71.73 L137.09 70.14 L137.56 68.64 L138 67.3 L138.42 66.13 L138.82 65.09 L139.21 64.15 L139.6 63.29 L140 62.5 L140.41 61.76 L140.82 61.1 L141.23 60.51 L141.63 60.01 L142 59.6 L142.34 59.3 L142.65 59.09 L142.96 58.97 L143.27 58.92 L143.6 58.9 L143.96 58.92 L144.33 58.97 L144.72 59.09 L145.11 59.3 L145.5 59.6 L145.89 60.01 L146.29 60.51 L146.7 61.1 L147.1 61.76 L147.5 62.5 L147.9 63.29 L148.29 64.15 L148.68 65.09 L149.08 66.13 L149.5 67.3 L149.94 68.62 L150.39 70.09 L150.86 71.65 L151.33 73.27 L151.8 74.9 L152.28 76.57 L152.76 78.32 L153.24 80.09 L153.72 81.83 L154.2 83.5 L154.67 85.08 L155.13 86.6 L155.58 88.08 L156.04 89.54 L156.5 91 L156.96 92.45 L157.41 93.87 L157.87 95.28 L158.33 96.69 L158.8 98.1 L159.29 99.55 L159.8 101.04 L160.3 102.5 L160.81 103.91 L161.3 105.2 L161.78 106.39 L162.24 107.51 L162.7 108.55 L163.16 109.48 L163.6 110.3 L164.03 110.98 L164.44 111.54 L164.86 111.99 L165.27 112.37 L165.7 112.7 L166.14 112.96 L166.57 113.13 L167.02 113.24 L167.49 113.33 L168 113.4 L168.53 113.46 L169.08 113.47 L169.66 113.47 L170.29 113.48 L171 113.5 L171.78 113.53 L172.62 113.54 L173.52 113.58 L174.48 113.65 L175.5 113.8 L176.57 114.02 L177.68 114.31 L178.86 114.64 L180.12 115.01 L181.5 115.4 L183.05 115.84 L184.74 116.33 L186.51 116.84 L188.26 117.35 L189.9 117.8 L191.42 118.25 L192.87 118.71 L194.28 119.12 L195.69 119.44 L197.1 119.6 L198.54 119.57 L200 119.39 L201.44 119.11 L202.85 118.76 L204.2 118.4 L205.47 117.98 L206.68 117.48 L207.85 116.95 L209.02 116.44 L210.2 116 L211.42 115.6 L212.66 115.22 L213.89 114.88 L215.08 114.63 L216.2 114.5 L217.24 114.49 L218.21 114.59 L219.14 114.77 L220.06 115.05 L221 115.4 L221.94 115.82 L222.87 116.3 L223.8 116.88 L224.77 117.57 L225.8 118.4 L226.94 119.46 L228.16 120.72 L229.4 122.06 L230.6 123.36 L231.7 124.5 L232.67 125.46 L233.55 126.32 L234.38 127.11 L235.18 127.83 L236 128.5 L236.83 129.09 L237.66 129.58 L238.48 130.04 L239.26 130.49 L240 131 L240.64 131.59 L241.2 132.22 L241.74 132.86 L242.35 133.46 L243.1 134 L244.03 134.43 L245.09 134.79 L246.21 135.12 L247.34 135.47 L248.4 135.9 L249.39 136.42 L250.36 136.99 L251.3 137.59 L252.25 138.2 L253.2 138.8 L254.18 139.37 L255.17 139.94 L256.15 140.51 L257.1 141.09 L258 141.7 L258.85 142.35 L259.67 143.02 L260.44 143.71 L261.16 144.38 L261.8 145 L262.33 145.55 L262.76 146.03 L263.15 146.51 L263.54 147.01 L264 147.6 L264.54 148.31 L265.11 149.12 L265.71 149.94 L266.32 150.73 L266.9 151.4 L267.45 151.93 L267.97 152.36 L268.51 152.73 L269.07 153.1 L269.7 153.5 L270.43 153.92 L271.23 154.34 L272.06 154.77 L272.87 155.22 L273.6 155.7 L274.25 156.21 L274.84 156.73 L275.4 157.29 L275.94 157.87 L276.5 158.5 L277.06 159.22 L277.62 160.02 L278.18 160.83 L278.74 161.58 L279.3 162.2 L279.88 162.65 L280.48 162.98 L281.07 163.24 L281.65 163.49 L282.2 163.8 L282.71 164.15 L283.2 164.5 L283.66 164.87 L284.13 165.26 L284.6 165.7 L285.08 166.22 L285.56 166.8 L286.04 167.4 L286.52 167.96 L287 168.4 L287.48 168.74 L287.96 169.01 L288.44 169.21 L288.92 169.34 L289.4 169.4 L289.87 169.31 L290.34 169.08 L290.8 168.81 L291.29 168.62 L291.8 168.6 L292.35 168.81 L292.93 169.18 L293.52 169.64 L294.12 170.1 L294.7 170.5 L295.27 170.84 L295.84 171.16 L296.41 171.46 L296.96 171.74 L297.5 172 L298.02 172.2 L298.54 172.35 L299.04 172.48 L299.52 172.65 L300 172.9 L300.45 173.23 L300.86 173.62 L301.28 174.05 L301.71 174.52 L302.2 175 L302.75 175.46 L303.33 175.89 L303.95 176.38 L304.57 176.99 L305.2 177.8 L305.86 178.92 L306.58 180.29 L307.28 181.76 L307.9 183.15 L308.4 184.3 L308.74 185.2 L308.97 185.97 L309.12 186.61 L309.21 187.12 L309.3 187.5" fill="none" stroke="#fd3c06" stroke-width="1.5" stroke-linejoin="round"/>
<path d="M69.3 66.5 L69.44 67.62 L69.63 69.17 L69.85 71.01 L70.08 73 L70.3 75 L70.5 76.99 L70.7 79.08 L70.9 81.26 L71.1 83.57 L71.3 86 L71.5 88.64 L71.7 91.48 L71.9 94.4 L72.1 97.28 L72.3 100 L72.5 102.51 L72.69 104.9 L72.89 107.22 L73.09 109.57 L73.3 112 L73.52 114.5 L73.75 117.03 L73.99 119.61 L74.24 122.26 L74.5 125 L74.79 128.03 L75.1 131.33 L75.42 134.61 L75.73 137.6 L76 140 L76.22 141.6 L76.39 142.57 L76.56 143.27 L76.75 144.03 L77 145.2 L77.33 146.79 L77.73 148.56 L78.15 150.51 L78.55 152.63 L78.9 154.9 L79.2 157.32 L79.47 159.88 L79.72 162.62 L79.93 165.55 L80.1 168.7 L80.22 172.44 L80.3 176.76 L80.34 181.09 L80.37 184.86 L80.4 187.5" fill="none" stroke="#247afd" stroke-width="1.5" stroke-linejoin="round"/>
<path d="M85.4 187.5 L85.45 185.08 L85.52 181.64 L85.61 177.66 L85.7 173.62 L85.8 170 L85.91 166.84 L86.03 163.82 L86.15 160.88 L86.28 157.96 L86.4 155 L86.51 152 L86.62 149 L86.73 146 L86.85 143 L87 140 L87.17 136.97 L87.36 133.9 L87.56 130.86 L87.77 127.87 L88 125 L88.24 122.26 L88.5 119.61 L88.77 117.03 L89.04 114.5 L89.3 112 L89.56 109.5 L89.82 107.03 L90.07 104.61 L90.33 102.26 L90.6 100 L90.88 97.87 L91.16 95.86 L91.45 93.9 L91.73 91.97 L92 90 L92.25 88 L92.48 86 L92.72 84 L92.95 82 L93.2 80 L93.46 78.02 L93.72 76.06 L93.99 74.09 L94.28 72.08 L94.6 70 L94.95 67.8 L95.32 65.49 L95.72 63.16 L96.11 60.87 L96.5 58.7 L96.88 56.64 L97.27 54.64 L97.65 52.71 L98.03 50.86 L98.4 49.1 L98.75 47.39 L99.09 45.74 L99.43 44.18 L99.76 42.76 L100.1 41.5 L100.44 40.44 L100.78 39.54 L101.11 38.78 L101.45 38.11 L101.8 37.5 L102.15 36.93 L102.51 36.42 L102.87 36 L103.23 35.68 L103.6 35.5 L103.96 35.46 L104.32 35.54 L104.68 35.74 L105.07 36.03 L105.5 36.4 L105.99 36.88 L106.52 37.49 L107.08 38.17 L107.61 38.89 L108.1 39.6 L108.52 40.3 L108.91 41.03 L109.27 41.77 L109.63 42.53 L110 43.3 L110.38 44.09 L110.77 44.89 L111.16 45.71 L111.54 46.51 L111.9 47.3 L112.24 48.06 L112.57 48.79 L112.88 49.52 L113.19 50.25 L113.5 51 L113.8 51.75 L114.1 52.49 L114.4 53.24 L114.7 54.04 L115 54.9 L115.32 55.85 L115.64 56.88 L115.96 57.95 L116.28 59 L116.6 60 L116.91 60.95 L117.23 61.87 L117.53 62.76 L117.83 63.64 L118.1 64.5 L118.34 65.29 L118.54 66 L118.74 66.72 L118.95 67.53 L119.2 68.5 L119.49 69.67 L119.81 70.98 L120.15 72.38 L120.48 73.84 L120.8 75.3 L121.09 76.78 L121.38 78.3 L121.66 79.86 L121.93 81.43 L122.2 83 L122.47 84.63 L122.74 86.32 L123.01 88 L123.26 89.59 L123.5 91 L123.72 92.2 L123.92 93.24 L124.11 94.18 L124.3 95.08 L124.5 96 L124.7 96.92 L124.89 97.81 L125.09 98.69 L125.29 99.58 L125.5 100.5 L125.73 101.5 L125.97 102.56 L126.21 103.63 L126.46 104.63 L126.7 105.5 L126.94 106.31 L127.18 107.09 L127.41 107.76 L127.65 108.22 L127.9 108.4 L128.15 108.24 L128.41 107.79 L128.67 107.14 L128.93 106.35 L129.2 105.5 L129.46 104.58 L129.72 103.55 L129.99 102.4 L130.28 101.15 L130.6 99.8 L130.97 98.25 L131.38 96.51 L131.8 94.71 L132.22 92.99 L132.6 91.5 L132.95 90.28 L133.28 89.24 L133.59 88.31 L133.9 87.42 L134.2 86.5 L134.48 85.61 L134.75 84.79 L135.01 83.96 L135.28 83.06 L135.6 82 L135.96 80.75 L136.36 79.37 L136.77 77.9 L137.19 76.39 L137.6 74.9 L138 73.37 L138.4 71.76 L138.81 70.16 L139.21 68.65 L139.6 67.3 L139.99 66.11 L140.37 65.03 L140.74 64.06 L141.12 63.22 L141.5 62.5 L141.88 61.92 L142.26 61.46 L142.64 61.12 L143.02 60.9 L143.4 60.8 L143.77 60.8 L144.14 60.91 L144.51 61.14 L144.89 61.5 L145.3 62 L145.74 62.65 L146.2 63.44 L146.68 64.36 L147.15 65.39 L147.6 66.5 L148.04 67.75 L148.46 69.14 L148.88 70.62 L149.3 72.09 L149.7 73.5 L150.1 74.85 L150.5 76.18 L150.89 77.5 L151.26 78.77 L151.6 80 L151.91 81.15 L152.18 82.22 L152.44 83.28 L152.71 84.35 L153 85.5 L153.32 86.74 L153.66 88.05 L154.01 89.38 L154.36 90.71 L154.7 92 L155.02 93.25 L155.34 94.48 L155.66 95.69 L155.98 96.9 L156.3 98.1 L156.63 99.3 L156.95 100.49 L157.29 101.68 L157.63 102.85 L158 104 L158.41 105.13 L158.84 106.23 L159.29 107.32 L159.72 108.41 L160.1 109.5 L160.42 110.62 L160.71 111.75 L160.97 112.87 L161.22 113.96 L161.5 115 L161.79 115.97 L162.08 116.88 L162.37 117.76 L162.68 118.63 L163 119.5 L163.29 120.33 L163.55 121.1 L163.85 121.89 L164.24 122.76 L164.8 123.8 L165.57 125.04 L166.5 126.43 L167.54 127.92 L168.59 129.43 L169.6 130.9 L170.56 132.58 L171.52 134.52 L172.49 136.34 L173.45 137.66 L174.4 138.1 L175.36 137.21 L176.34 135.23 L177.3 132.86 L178.23 130.78 L179.1 129.7 L179.9 129.94 L180.66 131.04 L181.37 132.51 L182.05 133.83 L182.7 134.5 L183.31 134.37 L183.89 133.78 L184.43 132.94 L184.97 132.11 L185.5 131.5 L186 131.04 L186.45 130.57 L186.91 130.22 L187.44 130.09 L188.1 130.3 L188.95 131.1 L189.95 132.42 L191 133.87 L192.02 135.09 L192.9 135.7 L193.59 135.56 L194.14 134.91 L194.66 133.97 L195.21 132.96 L195.9 132.1 L196.75 131.25 L197.7 130.26 L198.7 129.34 L199.72 128.68 L200.7 128.5 L201.68 129.01 L202.7 130.07 L203.69 131.37 L204.61 132.55 L205.4 133.3 L206.02 133.51 L206.5 133.39 L206.91 133.11 L207.32 132.83 L207.8 132.7 L208.35 132.8 L208.92 133.02 L209.52 133.25 L210.15 133.38 L210.8 133.3 L211.49 132.95 L212.21 132.42 L212.96 131.77 L213.72 131.1 L214.5 130.5 L215.29 129.88 L216.11 129.19 L216.93 128.55 L217.77 128.08 L218.6 127.9 L219.44 128.16 L220.3 128.77 L221.16 129.52 L222 130.21 L222.8 130.6 L223.55 130.59 L224.25 130.31 L224.95 129.95 L225.65 129.69 L226.4 129.7 L227.21 129.98 L228.08 130.4 L228.95 130.99 L229.8 131.75 L230.6 132.7 L231.34 133.99 L232.04 135.6 L232.71 137.32 L233.36 138.92 L234 140.2 L234.61 141.08 L235.2 141.72 L235.77 142.2 L236.33 142.63 L236.9 143.1 L237.49 143.65 L238.09 144.21 L238.68 144.74 L239.22 145.18 L239.7 145.5 L240.05 145.57 L240.31 145.42 L240.53 145.23 L240.81 145.2 L241.2 145.5 L241.74 146.25 L242.36 147.33 L243.05 148.57 L243.77 149.78 L244.5 150.8 L245.25 151.68 L246.05 152.54 L246.85 153.29 L247.65 153.84 L248.4 154.1 L249.12 153.92 L249.83 153.36 L250.51 152.65 L251.14 152.02 L251.7 151.7 L252.15 151.62 L252.49 151.64 L252.8 151.84 L253.15 152.33 L253.6 153.2 L254.2 154.83 L254.9 157.15 L255.64 159.61 L256.36 161.64 L257 162.7 L257.54 162.52 L258.01 161.47 L258.45 159.94 L258.9 158.33 L259.4 157 L259.96 155.84 L260.56 154.58 L261.17 153.42 L261.76 152.56 L262.3 152.2 L262.81 152.5 L263.29 153.33 L263.75 154.44 L264.15 155.58 L264.5 156.5 L264.75 157.14 L264.92 157.66 L265.06 158.17 L265.2 158.75 L265.4 159.5 L265.66 160.53 L265.94 161.76 L266.24 163.06 L266.56 164.25 L266.9 165.2 L267.25 165.85 L267.63 166.3 L268.02 166.64 L268.41 166.91 L268.8 167.2 L269.17 167.55 L269.54 167.9 L269.9 168.2 L270.29 168.39 L270.7 168.4 L271.15 168.07 L271.62 167.43 L272.12 166.74 L272.61 166.25 L273.1 166.2 L273.58 166.73 L274.06 167.67 L274.54 168.83 L275.02 170 L275.5 171 L275.98 171.87 L276.46 172.76 L276.94 173.56 L277.42 174.21 L277.9 174.6 L278.39 174.55 L278.88 174.11 L279.38 173.58 L279.85 173.24 L280.3 173.4 L280.72 174.18 L281.12 175.38 L281.5 176.81 L281.86 178.28 L282.2 179.6 L282.53 180.8 L282.84 182.02 L283.14 183.19 L283.39 184.27 L283.6 185.2 L283.75 185.98 L283.85 186.66 L283.92 187.22 L283.96 187.66 L284 188" fill="none" stroke="#247afd" stroke-width="1.5" stroke-linejoin="round"/>
<path d="M286.3 188 L286.36 187.36 L286.44 186.47 L286.54 185.4 L286.69 184.22 L286.9 183 L287.19 181.44 L287.54 179.48 L287.94 177.59 L288.33 176.21 L288.7 175.8 L289.05 176.72 L289.42 178.68 L289.76 181.12 L290.07 183.48 L290.3 185.2 L290.45 186.23 L290.53 186.93 L290.56 187.4 L290.58 187.72 L290.6 188" fill="none" stroke="#247afd" stroke-width="1.5" stroke-linejoin="round"/>
</g>
<g clip-path="url(#ctr)">
<path d="M413.6 105.4 L413.92 105.35 L414.38 105.29 L414.92 105.21 L415.48 105.11 L416 105 L416.5 104.88 L417.03 104.75 L417.55 104.6 L418.04 104.42 L418.5 104.2 L418.91 103.94 L419.28 103.64 L419.64 103.31 L419.97 102.96 L420.3 102.6 L420.62 102.23 L420.93 101.84 L421.23 101.44 L421.52 101.03 L421.8 100.6 L422.08 100.16 L422.34 99.72 L422.6 99.26 L422.86 98.78 L423.1 98.3 L423.32 97.84 L423.53 97.42 L423.73 96.96 L423.95 96.4 L424.2 95.7 L424.49 94.78 L424.82 93.67 L425.16 92.49 L425.49 91.34 L425.8 90.3 L426.08 89.41 L426.34 88.6 L426.59 87.83 L426.84 87.08 L427.1 86.3 L427.34 85.56 L427.57 84.89 L427.81 84.19 L428.08 83.36 L428.4 82.3 L428.8 80.96 L429.25 79.39 L429.73 77.7 L430.22 75.97 L430.7 74.3 L431.16 72.69 L431.62 71.08 L432.08 69.47 L432.54 67.84 L433 66.2 L433.46 64.53 L433.92 62.83 L434.38 61.12 L434.84 59.44 L435.3 57.8 L435.76 56.2 L436.22 54.61 L436.68 53.06 L437.14 51.55 L437.6 50.1 L438.06 48.7 L438.52 47.34 L438.98 46.03 L439.44 44.78 L439.9 43.6 L440.35 42.48 L440.8 41.41 L441.24 40.4 L441.71 39.46 L442.2 38.6 L442.71 37.81 L443.22 37.08 L443.76 36.44 L444.35 35.87 L445 35.4 L445.75 35.02 L446.58 34.73 L447.45 34.52 L448.3 34.41 L449.1 34.4 L449.82 34.48 L450.51 34.66 L451.17 34.94 L451.82 35.32 L452.5 35.8 L453.19 36.43 L453.89 37.19 L454.6 38.04 L455.3 38.93 L456 39.8 L456.7 40.65 L457.4 41.5 L458.11 42.38 L458.81 43.31 L459.5 44.3 L460.19 45.38 L460.89 46.53 L461.58 47.72 L462.25 48.93 L462.9 50.1 L463.51 51.24 L464.1 52.38 L464.67 53.52 L465.23 54.66 L465.8 55.8 L466.36 56.98 L466.92 58.19 L467.48 59.39 L468.04 60.54 L468.6 61.57 L469.16 62.52 L469.7 63.41 L470.26 64.23 L470.85 64.97 L471.5 65.62 L472.23 66.23 L473.02 66.81 L473.85 67.28 L474.68 67.64 L475.5 67.78 L476.3 67.62 L477.1 67.21 L477.89 66.64 L478.69 65.97 L479.5 65.28 L480.31 64.48 L481.12 63.51 L481.93 62.51 L482.76 61.57 L483.6 60.8 L484.48 60.18 L485.41 59.65 L486.33 59.23 L487.2 58.94 L488 58.8 L488.69 58.84 L489.31 59.05 L489.88 59.38 L490.44 59.81 L491 60.3 L491.57 60.86 L492.14 61.53 L492.7 62.27 L493.25 63.06 L493.8 63.9 L494.34 64.77 L494.87 65.68 L495.4 66.66 L495.94 67.69 L496.5 68.8 L497.07 69.99 L497.65 71.26 L498.25 72.59 L498.86 73.98 L499.5 75.4 L500.18 76.9 L500.91 78.49 L501.65 80.11 L502.36 81.7 L503 83.2 L503.55 84.59 L504.04 85.92 L504.5 87.2 L504.97 88.49 L505.5 89.8 L506.09 91.17 L506.7 92.57 L507.34 93.97 L508.01 95.33 L508.7 96.6 L509.39 97.8 L510.09 98.96 L510.81 100.06 L511.61 101.08 L512.5 102 L513.54 102.82 L514.71 103.54 L515.93 104.18 L517.12 104.76 L518.2 105.3 L519.13 105.77 L519.97 106.18 L520.78 106.53 L521.6 106.86 L522.5 107.2 L523.5 107.55 L524.55 107.89 L525.64 108.21 L526.73 108.52 L527.8 108.8 L528.87 109.06 L529.94 109.3 L531.01 109.51 L532.04 109.71 L533 109.9 L533.84 110.07 L534.59 110.22 L535.31 110.35 L536.09 110.48 L537 110.6 L538.08 110.73 L539.28 110.85 L540.54 110.97 L541.8 111.05 L543 111.1 L544.12 111.1 L545.21 111.05 L546.29 110.98 L547.38 110.89 L548.5 110.8 L549.65 110.69 L550.82 110.57 L552.01 110.43 L553.23 110.31 L554.5 110.2 L555.88 110.1 L557.35 110.01 L558.83 109.93 L560.22 109.89 L561.4 109.9 L562.34 109.97 L563.09 110.08 L563.74 110.24 L564.35 110.41 L565 110.6 L565.66 110.79 L566.3 110.98 L566.93 111.2 L567.59 111.47 L568.3 111.8 L569.07 112.21 L569.88 112.67 L570.72 113.19 L571.59 113.73 L572.5 114.3 L573.44 114.89 L574.42 115.5 L575.43 116.14 L576.46 116.81 L577.5 117.5 L578.56 118.21 L579.64 118.95 L580.74 119.72 L581.86 120.5 L583 121.3 L584.18 122.13 L585.39 122.99 L586.61 123.86 L587.82 124.74 L589 125.6 L590.12 126.44 L591.21 127.27 L592.29 128.1 L593.38 128.94 L594.5 129.8 L595.61 130.64 L596.69 131.45 L597.81 132.29 L599.06 133.22 L600.5 134.3 L602.22 135.55 L604.18 136.93 L606.24 138.41 L608.28 139.95 L610.2 141.5 L611.99 143.12 L613.74 144.82 L615.44 146.55 L617.06 148.23 L618.6 149.8 L619.98 151.21 L621.22 152.5 L622.41 153.76 L623.67 155.03 L625.1 156.4 L626.81 157.95 L628.74 159.64 L630.71 161.32 L632.55 162.89 L634.1 164.2 L635.28 165.19 L636.21 165.95 L636.99 166.57 L637.72 167.15 L638.5 167.8 L639.33 168.49 L640.13 169.17 L640.92 169.85 L641.71 170.55 L642.5 171.3 L643.32 172.11 L644.15 172.97 L644.97 173.85 L645.76 174.73 L646.5 175.6 L647.18 176.46 L647.81 177.32 L648.4 178.18 L648.96 179.01 L649.5 179.8 L650.02 180.56 L650.53 181.29 L651 181.99 L651.43 182.66 L651.8 183.3 L652.11 183.93 L652.38 184.57 L652.6 185.15 L652.77 185.65 L652.9 186 L652.9 188.4 L652.77 188.05 L652.6 187.55 L652.38 186.97 L652.11 186.33 L651.8 185.7 L651.43 185.06 L651 184.39 L650.53 183.69 L650.02 182.96 L649.5 182.2 L648.96 181.41 L648.4 180.58 L647.81 179.72 L647.18 178.86 L646.5 178 L645.76 177.13 L644.97 176.25 L644.15 175.37 L643.32 174.51 L642.5 173.7 L641.71 172.95 L640.92 172.25 L640.13 171.57 L639.33 170.89 L638.5 170.2 L637.72 169.55 L636.99 168.97 L636.21 168.35 L635.28 167.59 L634.1 166.6 L632.55 165.29 L630.71 163.72 L628.74 162.04 L626.81 160.35 L625.1 158.8 L623.67 157.43 L622.41 156.16 L621.22 154.9 L619.98 153.61 L618.6 152.2 L617.06 150.63 L615.44 148.95 L613.74 147.22 L611.99 145.52 L610.2 143.9 L608.28 142.35 L606.24 140.81 L604.18 139.33 L602.22 137.95 L600.5 136.7 L599.06 135.62 L597.81 134.69 L596.69 133.85 L595.61 133.04 L594.5 132.2 L593.38 131.34 L592.29 130.5 L591.21 129.67 L590.12 128.84 L589 128 L587.82 127.14 L586.61 126.26 L585.39 125.39 L584.18 124.53 L583 123.7 L581.86 122.9 L580.74 122.12 L579.64 121.35 L578.56 120.61 L577.5 119.9 L576.46 119.21 L575.43 118.54 L574.42 117.9 L573.44 117.29 L572.5 116.7 L571.59 116.13 L570.72 115.59 L569.88 115.07 L569.07 114.61 L568.3 114.2 L567.59 113.87 L566.93 113.6 L566.3 113.38 L565.66 113.19 L565 113 L564.35 112.81 L563.74 112.64 L563.09 112.48 L562.34 112.37 L561.4 112.3 L560.22 112.29 L558.83 112.33 L557.35 112.41 L555.88 112.5 L554.5 112.6 L553.23 112.71 L552.01 112.83 L550.82 112.97 L549.65 113.09 L548.5 113.2 L547.38 113.29 L546.29 113.38 L545.21 113.45 L544.12 113.5 L543 113.5 L541.8 113.45 L540.54 113.37 L539.28 113.25 L538.08 113.13 L537 113 L536.09 112.88 L535.31 112.75 L534.59 112.62 L533.84 112.47 L533 112.3 L532.04 112.11 L531.01 111.91 L529.94 111.7 L528.87 111.46 L527.8 111.2 L526.73 110.92 L525.64 110.61 L524.55 110.29 L523.5 109.95 L522.5 109.6 L521.6 109.26 L520.78 108.93 L519.97 108.58 L519.13 108.17 L518.2 107.7 L517.12 107.16 L515.93 106.58 L514.71 105.94 L513.54 105.22 L512.5 104.4 L511.61 103.48 L510.81 102.46 L510.09 101.36 L509.39 100.2 L508.7 99 L508.01 97.73 L507.34 96.37 L506.7 94.97 L506.09 93.57 L505.5 92.2 L504.97 90.89 L504.5 89.6 L504.04 88.32 L503.55 86.99 L503 85.6 L502.36 84.1 L501.65 82.51 L500.91 80.89 L500.18 79.3 L499.5 77.8 L498.86 76.38 L498.25 74.99 L497.65 73.66 L497.07 72.39 L496.5 71.2 L495.94 70.09 L495.4 69.06 L494.87 68.08 L494.34 67.17 L493.8 66.3 L493.25 65.46 L492.7 64.67 L492.14 63.93 L491.57 63.26 L491 62.7 L490.44 62.21 L489.88 61.78 L489.31 61.45 L488.69 61.24 L488 61.2 L487.2 61.34 L486.33 61.63 L485.41 62.05 L484.48 62.58 L483.6 63.2 L482.76 63.97 L481.93 64.91 L481.12 65.91 L480.31 66.88 L479.5 67.81 L478.69 68.72 L477.89 69.6 L477.1 70.39 L476.3 71 L475.5 71.38 L474.68 71.46 L473.85 71.24 L473.02 70.6 L472.23 69.85 L471.5 69.08 L470.85 68.29 L470.26 67.42 L469.7 66.47 L469.16 65.47 L468.6 64.4 L468.04 63.25 L467.48 62.09 L466.92 60.88 L466.36 59.67 L465.8 58.48 L465.23 57.34 L464.67 56.19 L464.1 55.06 L463.51 53.91 L462.9 52.76 L462.25 51.59 L461.58 50.38 L460.89 49.18 L460.19 48.02 L459.5 46.94 L458.81 45.94 L458.11 45.01 L457.4 44.13 L456.7 43.27 L456 42.42 L455.3 41.54 L454.6 40.65 L453.89 39.79 L453.19 39.02 L452.5 38.39 L451.82 37.9 L451.17 37.52 L450.51 37.24 L449.82 37.06 L449.1 36.97 L448.3 36.97 L447.45 37.08 L446.58 37.28 L445.75 37.57 L445 37.94 L444.35 38.41 L443.76 38.97 L443.22 39.61 L442.71 40.33 L442.2 41.12 L441.71 41.98 L441.24 42.91 L440.8 43.92 L440.35 44.98 L439.9 46.1 L439.44 47.29 L438.98 48.53 L438.52 49.84 L438.06 51.19 L437.6 52.59 L437.14 54.04 L436.68 55.54 L436.22 57.09 L435.76 58.67 L435.3 60.27 L434.84 61.91 L434.38 63.59 L433.92 65.29 L433.46 66.99 L433 68.66 L432.54 70.29 L432.08 71.92 L431.62 73.53 L431.16 75.13 L430.7 76.74 L430.22 78.41 L429.73 80.13 L429.25 81.82 L428.8 83.38 L428.4 84.72 L428.08 85.78 L427.81 86.61 L427.57 87.31 L427.34 87.98 L427.1 88.71 L426.84 89.49 L426.59 90.24 L426.34 91.01 L426.08 91.82 L425.8 92.71 L425.49 93.74 L425.16 94.89 L424.82 96.09 L424.49 97.21 L424.2 98.15 L423.95 98.87 L423.73 99.44 L423.53 99.91 L423.32 100.36 L423.1 100.83 L422.86 101.33 L422.6 101.82 L422.34 102.29 L422.08 102.76 L421.8 103.21 L421.52 103.66 L421.23 104.09 L420.93 104.51 L420.62 104.92 L420.3 105.31 L419.97 105.69 L419.64 106.06 L419.28 106.42 L418.91 106.74 L418.5 107.03 L418.04 107.28 L417.55 107.49 L417.03 107.68 L416.5 107.84 L416 108 L415.48 108.15 L414.92 108.28 L414.38 108.4 L413.92 108.49 L413.6 108.56 Z" fill="#ffb499"/>
<path d="M413.6 107.7 L413.89 107.62 L414.3 107.5 L414.78 107.37 L415.27 107.29 L415.7 107.3 L416.08 107.43 L416.44 107.64 L416.79 107.9 L417.14 108.16 L417.5 108.4 L417.86 108.64 L418.22 108.9 L418.59 109.14 L418.95 109.32 L419.3 109.4 L419.65 109.34 L419.99 109.15 L420.33 108.9 L420.67 108.59 L421 108.26 L421.33 107.89 L421.66 107.46 L421.98 107 L422.29 106.51 L422.6 106 L422.9 105.63 L423.19 105.23 L423.48 104.8 L423.75 104.35 L424 103.88 L424.22 103.42 L424.42 102.97 L424.6 102.48 L424.79 101.93 L425 101.3 L425.23 100.63 L425.47 99.87 L425.72 99.06 L425.96 98.22 L426.2 97.4 L426.42 96.6 L426.64 95.79 L426.85 94.97 L427.07 94.12 L427.3 93.23 L427.55 92.27 L427.8 91.27 L428.06 90.25 L428.33 89.21 L428.6 88.2 L428.88 87.2 L429.16 86.07 L429.44 84.86 L429.72 83.66 L430 82.49 L430.26 81.36 L430.52 80.27 L430.78 79.19 L431.04 78.1 L431.3 76.97 L431.57 75.8 L431.85 74.6 L432.13 73.39 L432.41 72.17 L432.7 70.95 L432.99 69.75 L433.29 68.55 L433.59 67.34 L433.89 66.14 L434.2 64.94 L434.51 63.77 L434.82 62.63 L435.14 61.48 L435.47 60.26 L435.8 58.92 L436.14 57.4 L436.48 55.74 L436.83 54.02 L437.2 52.34 L437.6 50.8 L438.03 49.38 L438.48 48.03 L438.96 46.76 L439.43 45.54 L439.9 44.37 L440.35 43.25 L440.8 42.19 L441.24 41.18 L441.71 40.23 L442.2 39.34 L442.72 38.49 L443.25 37.69 L443.81 36.95 L444.39 36.28 L445 35.7 L445.66 35.2 L446.35 34.75 L447.07 34.39 L447.79 34.15 L448.5 34.06 L449.19 34.12 L449.88 34.3 L450.56 34.61 L451.27 35.08 L452 35.72 L452.78 36.59 L453.59 37.69 L454.41 38.91 L455.22 40.17 L456 41.37 L456.73 42.5 L457.44 43.61 L458.13 44.74 L458.81 45.9 L459.5 47.13 L460.19 48.43 L460.89 49.81 L461.58 51.21 L462.25 52.62 L462.9 53.99 L463.51 55.31 L464.1 56.6 L464.67 57.9 L465.23 59.2 L465.8 60.55 L466.37 62 L466.95 63.54 L467.51 65.07 L468.07 66.49 L468.6 67.72 L469.11 68.73 L469.6 69.59 L470.07 70.33 L470.54 70.96 L471 71.5 L471.44 71.94 L471.87 72.28 L472.29 72.52 L472.72 72.66 L473.2 72.7 L473.73 72.63 L474.29 72.46 L474.87 72.19 L475.45 71.86 L476 71.5 L476.51 71.12 L477.01 70.68 L477.49 70.19 L477.99 69.66 L478.5 69.12 L479.03 68.57 L479.58 67.99 L480.14 67.38 L480.71 66.74 L481.3 66.06 L481.91 65.31 L482.54 64.49 L483.18 63.65 L483.83 62.88 L484.5 62.22 L485.19 61.67 L485.9 61.17 L486.62 60.77 L487.33 60.5 L488 60.4 L488.64 60.48 L489.25 60.72 L489.84 61.1 L490.42 61.59 L491 62.2 L491.57 62.97 L492.14 63.9 L492.7 64.96 L493.25 66.07 L493.8 67.18 L494.34 68.31 L494.87 69.47 L495.4 70.68 L495.94 71.91 L496.5 73.17 L497.07 74.44 L497.65 75.72 L498.25 77.03 L498.86 78.41 L499.5 79.86 L500.18 81.43 L500.91 83.12 L501.65 84.84 L502.36 86.54 L503 88.14 L503.55 89.59 L504.04 90.93 L504.5 92.25 L504.97 93.62 L505.5 95.13 L506.11 96.85 L506.77 98.75 L507.45 100.68 L508.11 102.51 L508.7 104.11 L509.22 105.46 L509.68 106.63 L510.12 107.68 L510.55 108.65 L511 109.6 L511.44 110.49 L511.84 111.26 L512.26 112.01 L512.76 112.8 L513.4 113.69 L514.19 114.79 L515.1 116.03 L516.1 117.3 L517.14 118.45 L518.2 119.37 L519.32 120.01 L520.52 120.46 L521.73 120.77 L522.88 121.01 L523.9 121.25 L524.75 121.45 L525.47 121.58 L526.12 121.67 L526.78 121.75 L527.5 121.83 L528.28 121.93 L529.09 122.02 L529.91 122.1 L530.75 122.17 L531.6 122.21 L532.42 122.23 L533.21 122.23 L534.04 122.21 L534.95 122.16 L536 122.09 L537.26 121.98 L538.68 121.83 L540.18 121.67 L541.65 121.5 L543 121.36 L544.19 121.24 L545.28 121.12 L546.34 121.01 L547.39 120.92 L548.5 120.83 L549.7 120.78 L550.96 120.76 L552.22 120.74 L553.42 120.7 L554.5 120.61 L555.43 120.45 L556.24 120.24 L557 120.01 L557.73 119.78 L558.5 119.59 L559.31 119.42 L560.12 119.25 L560.94 119.11 L561.73 119.01 L562.5 118.97 L563.23 119 L563.94 119.1 L564.63 119.23 L565.31 119.39 L566 119.55 L566.68 119.71 L567.33 119.86 L567.99 120.03 L568.68 120.25 L569.4 120.54 L570.18 120.89 L570.99 121.31 L571.83 121.77 L572.68 122.27 L573.5 122.82 L574.28 123.41 L575.04 124.04 L575.8 124.71 L576.61 125.43 L577.5 126.2 L578.5 127.04 L579.57 127.95 L580.69 128.89 L581.84 129.84 L583 130.78 L584.18 131.7 L585.39 132.63 L586.61 133.56 L587.82 134.47 L589 135.35 L590.12 136.2 L591.21 137.02 L592.29 137.83 L593.38 138.62 L594.5 139.42 L595.64 140.21 L596.77 140.97 L597.94 141.74 L599.17 142.54 L600.5 143.38 L601.95 144.25 L603.5 145.17 L605.11 146.12 L606.76 147.1 L608.4 148.11 L610.05 149.12 L611.73 150.14 L613.42 151.2 L615.12 152.34 L616.8 153.61 L618.53 155.08 L620.31 156.73 L622.07 158.41 L623.69 160.02 L625.1 161.44 L626.23 162.65 L627.13 163.71 L627.91 164.67 L628.67 165.6 L629.5 166.53 L630.42 167.47 L631.37 168.4 L632.32 169.3 L633.24 170.18 L634.1 171.05 L634.89 171.88 L635.63 172.68 L636.34 173.47 L637.02 174.27 L637.7 175.1 L638.39 175.96 L639.07 176.85 L639.73 177.75 L640.35 178.66 L640.9 179.55 L641.39 180.52 L641.84 181.56 L642.24 182.56 L642.56 183.42 L642.8 184.03 L642.8 190.4 L642.56 189.79 L642.24 188.92 L641.84 187.92 L641.39 186.87 L640.9 185.9 L640.35 184.99 L639.73 184.08 L639.07 183.17 L638.39 182.27 L637.7 181.4 L637.02 180.56 L636.34 179.76 L635.63 178.96 L634.89 178.15 L634.1 177.3 L633.24 176.42 L632.32 175.53 L631.37 174.61 L630.42 173.67 L629.5 172.66 L628.67 171.64 L627.91 170.62 L627.13 169.56 L626.23 168.39 L625.1 167.06 L623.69 165.47 L622.07 163.66 L620.31 161.77 L618.53 159.98 L616.8 158.39 L615.12 157 L613.42 155.74 L611.73 154.56 L610.05 153.42 L608.4 152.29 L606.76 151.17 L605.11 150.07 L603.5 149.01 L601.95 147.99 L600.5 147.02 L599.17 146.13 L597.94 145.32 L596.77 144.54 L595.64 143.77 L594.5 142.97 L593.38 142.16 L592.29 141.36 L591.21 140.54 L590.12 139.71 L589 138.85 L587.82 137.96 L586.61 137.04 L585.39 136.1 L584.18 135.16 L583 134.22 L581.84 133.28 L580.69 132.31 L579.57 131.36 L578.5 130.45 L577.5 129.6 L576.61 128.82 L575.8 128.09 L575.04 127.41 L574.28 126.77 L573.5 126.18 L572.68 125.62 L571.83 125.11 L570.99 124.64 L570.18 124.22 L569.4 123.86 L568.68 123.57 L567.99 123.34 L567.33 123.16 L566.68 123 L566 122.85 L565.31 122.68 L564.63 122.51 L563.94 122.37 L563.23 122.27 L562.5 122.23 L561.73 122.26 L560.94 122.36 L560.12 122.49 L559.31 122.65 L558.5 122.81 L557.73 123 L557 123.21 L556.24 123.44 L555.43 123.64 L554.5 123.79 L553.42 123.87 L552.22 123.91 L550.96 123.91 L549.7 123.92 L548.5 123.97 L547.39 124.04 L546.34 124.12 L545.28 124.22 L544.19 124.33 L543 124.44 L541.65 124.57 L540.18 124.72 L538.68 124.87 L537.26 125.01 L536 125.11 L534.95 125.17 L534.04 125.21 L533.21 125.22 L532.42 125.21 L531.6 125.19 L530.75 125.14 L529.91 125.07 L529.09 124.98 L528.28 124.87 L527.5 124.77 L526.78 124.68 L526.12 124.6 L525.47 124.5 L524.75 124.36 L523.9 124.15 L522.88 123.91 L521.73 123.66 L520.52 123.33 L519.32 122.88 L518.2 122.23 L517.14 121.3 L516.1 120.14 L515.1 118.86 L514.19 117.61 L513.4 116.51 L512.76 115.6 L512.26 114.81 L511.84 114.06 L511.44 113.28 L511 112.4 L510.55 111.44 L510.12 110.46 L509.68 109.41 L509.22 108.23 L508.7 106.89 L508.11 105.27 L507.45 103.44 L506.77 101.5 L506.11 99.6 L505.5 97.87 L504.97 96.36 L504.5 94.98 L504.04 93.66 L503.55 92.31 L503 90.86 L502.36 89.25 L501.65 87.55 L500.91 85.82 L500.18 84.12 L499.5 82.54 L498.86 81.09 L498.25 79.71 L497.65 78.39 L497.07 77.1 L496.5 75.83 L495.94 74.57 L495.4 73.33 L494.87 72.12 L494.34 70.94 L493.8 69.82 L493.25 68.7 L492.7 67.58 L492.14 66.52 L491.57 65.58 L491 64.8 L490.42 64.19 L489.84 63.72 L489.25 63.42 L488.64 63.27 L488 63.27 L487.33 63.46 L486.62 63.83 L485.9 64.33 L485.19 64.93 L484.5 65.57 L483.83 66.31 L483.18 67.18 L482.54 68.1 L481.91 69.01 L481.3 69.85 L480.71 70.6 L480.14 71.32 L479.58 72 L479.03 72.66 L478.5 73.29 L477.99 73.9 L477.49 74.48 L477.01 75.04 L476.51 75.55 L476 76 L475.45 76.41 L474.87 76.78 L474.29 77.1 L473.73 77.32 L473.2 77.43 L472.72 77.43 L472.29 77.33 L471.87 77.13 L471.44 76.82 L471 76.42 L470.54 75.92 L470.07 75.32 L469.6 74.57 L469.11 73.69 L468.6 72.65 L468.07 71.4 L467.51 69.95 L466.95 68.39 L466.37 66.82 L465.8 65.35 L465.23 63.97 L464.67 62.64 L464.1 61.32 L463.51 59.99 L462.9 58.64 L462.25 57.24 L461.58 55.8 L460.89 54.36 L460.19 52.96 L459.5 51.62 L458.81 50.36 L458.13 49.16 L457.44 48 L456.73 46.85 L456 45.69 L455.22 44.45 L454.41 43.15 L453.59 41.89 L452.78 40.75 L452 39.84 L451.27 39.17 L450.56 38.66 L449.88 38.31 L449.19 38.1 L448.5 38.01 L447.79 38.06 L447.07 38.27 L446.35 38.59 L445.66 39.01 L445 39.49 L444.39 40.03 L443.81 40.67 L443.25 41.38 L442.72 42.16 L442.2 42.98 L441.71 43.85 L441.24 44.78 L440.8 45.76 L440.35 46.8 L439.9 47.9 L439.43 49.04 L438.96 50.24 L438.48 51.5 L438.03 52.82 L437.6 54.21 L437.2 55.74 L436.83 57.41 L436.48 59.1 L436.14 60.75 L435.8 62.25 L435.47 63.57 L435.14 64.78 L434.82 65.91 L434.51 67.04 L434.2 68.19 L433.89 69.38 L433.59 70.57 L433.29 71.76 L432.99 72.95 L432.7 74.14 L432.41 75.33 L432.13 76.54 L431.85 77.74 L431.57 78.93 L431.3 80.08 L431.04 81.2 L430.78 82.28 L430.52 83.34 L430.26 84.42 L430 85.54 L429.72 86.69 L429.44 87.88 L429.16 89.08 L428.88 90.39 L428.6 91.8 L428.33 93.22 L428.06 94.65 L427.8 96.07 L427.55 97.45 L427.3 98.77 L427.07 100.02 L426.85 101.34 L426.64 102.7 L426.42 104.04 L426.2 105.4 L425.96 106.82 L425.72 108.27 L425.47 109.7 L425.23 111.06 L425 112.3 L424.79 113.24 L424.6 114.06 L424.42 114.81 L424.22 115.56 L424 116.34 L423.75 117.17 L423.48 118.02 L423.19 118.87 L422.9 119.7 L422.6 120.5 L422.29 120.91 L421.98 121.3 L421.66 121.66 L421.33 121.98 L421 122.24 L420.67 122.47 L420.33 122.66 L419.99 122.81 L419.65 122.88 L419.3 122.87 L418.95 122.74 L418.59 122.51 L418.22 122.22 L417.86 121.9 L417.5 121.61 L417.14 121.33 L416.79 121.01 L416.44 120.7 L416.08 120.44 L415.7 120.15 L415.27 119.92 L414.78 119.76 L414.3 119.65 L413.89 119.57 L413.6 119.5 Z" fill="#aecdfe"/>
<path d="M413.6 106.6 L413.92 106.55 L414.38 106.49 L414.92 106.41 L415.48 106.31 L416 106.2 L416.5 106.08 L417.03 105.95 L417.55 105.8 L418.04 105.62 L418.5 105.4 L418.91 105.14 L419.28 104.84 L419.64 104.51 L419.97 104.16 L420.3 103.8 L420.62 103.43 L420.93 103.04 L421.23 102.64 L421.52 102.23 L421.8 101.8 L422.08 101.36 L422.34 100.92 L422.6 100.46 L422.86 99.98 L423.1 99.5 L423.32 99.04 L423.53 98.62 L423.73 98.16 L423.95 97.6 L424.2 96.9 L424.49 95.98 L424.82 94.87 L425.16 93.69 L425.49 92.54 L425.8 91.5 L426.08 90.61 L426.34 89.8 L426.59 89.03 L426.84 88.28 L427.1 87.5 L427.34 86.76 L427.57 86.09 L427.81 85.39 L428.08 84.56 L428.4 83.5 L428.8 82.16 L429.25 80.59 L429.73 78.9 L430.22 77.17 L430.7 75.5 L431.16 73.89 L431.62 72.28 L432.08 70.67 L432.54 69.04 L433 67.4 L433.46 65.73 L433.92 64.03 L434.38 62.32 L434.84 60.64 L435.3 59 L435.76 57.4 L436.22 55.81 L436.68 54.26 L437.14 52.75 L437.6 51.3 L438.06 49.9 L438.52 48.54 L438.98 47.23 L439.44 45.98 L439.9 44.8 L440.35 43.68 L440.8 42.61 L441.24 41.6 L441.71 40.66 L442.2 39.8 L442.71 39.01 L443.22 38.28 L443.76 37.64 L444.35 37.07 L445 36.6 L445.75 36.22 L446.58 35.93 L447.45 35.72 L448.3 35.61 L449.1 35.6 L449.82 35.68 L450.51 35.86 L451.17 36.14 L451.82 36.52 L452.5 37 L453.19 37.63 L453.89 38.39 L454.6 39.24 L455.3 40.13 L456 41 L456.7 41.85 L457.4 42.7 L458.11 43.58 L458.81 44.51 L459.5 45.5 L460.19 46.58 L460.89 47.73 L461.58 48.92 L462.25 50.13 L462.9 51.3 L463.51 52.44 L464.1 53.58 L464.67 54.72 L465.23 55.86 L465.8 57 L466.36 58.18 L466.92 59.39 L467.48 60.59 L468.04 61.74 L468.6 62.8 L469.16 63.77 L469.7 64.69 L470.26 65.54 L470.85 66.31 L471.5 67 L472.23 67.65 L473.02 68.26 L473.85 68.77 L474.68 69.11 L475.5 69.2 L476.3 69 L477.1 68.56 L477.89 67.94 L478.69 67.23 L479.5 66.5 L480.31 65.68 L481.12 64.71 L481.93 63.71 L482.76 62.77 L483.6 62 L484.48 61.38 L485.41 60.85 L486.33 60.43 L487.2 60.14 L488 60 L488.69 60.04 L489.31 60.25 L489.88 60.58 L490.44 61.01 L491 61.5 L491.57 62.06 L492.14 62.73 L492.7 63.47 L493.25 64.26 L493.8 65.1 L494.34 65.97 L494.87 66.88 L495.4 67.86 L495.94 68.89 L496.5 70 L497.07 71.19 L497.65 72.46 L498.25 73.79 L498.86 75.18 L499.5 76.6 L500.18 78.1 L500.91 79.69 L501.65 81.31 L502.36 82.9 L503 84.4 L503.55 85.79 L504.04 87.12 L504.5 88.4 L504.97 89.69 L505.5 91 L506.09 92.37 L506.7 93.77 L507.34 95.17 L508.01 96.53 L508.7 97.8 L509.39 99 L510.09 100.16 L510.81 101.26 L511.61 102.28 L512.5 103.2 L513.54 104.02 L514.71 104.74 L515.93 105.38 L517.12 105.96 L518.2 106.5 L519.13 106.97 L519.97 107.38 L520.78 107.73 L521.6 108.06 L522.5 108.4 L523.5 108.75 L524.55 109.09 L525.64 109.41 L526.73 109.72 L527.8 110 L528.87 110.26 L529.94 110.5 L531.01 110.71 L532.04 110.91 L533 111.1 L533.84 111.27 L534.59 111.42 L535.31 111.55 L536.09 111.68 L537 111.8 L538.08 111.93 L539.28 112.05 L540.54 112.17 L541.8 112.25 L543 112.3 L544.12 112.3 L545.21 112.25 L546.29 112.18 L547.38 112.09 L548.5 112 L549.65 111.89 L550.82 111.77 L552.01 111.63 L553.23 111.51 L554.5 111.4 L555.88 111.3 L557.35 111.21 L558.83 111.13 L560.22 111.09 L561.4 111.1 L562.34 111.17 L563.09 111.28 L563.74 111.44 L564.35 111.61 L565 111.8 L565.66 111.99 L566.3 112.18 L566.93 112.4 L567.59 112.67 L568.3 113 L569.07 113.41 L569.88 113.87 L570.72 114.39 L571.59 114.93 L572.5 115.5 L573.44 116.09 L574.42 116.7 L575.43 117.34 L576.46 118.01 L577.5 118.7 L578.56 119.41 L579.64 120.15 L580.74 120.92 L581.86 121.7 L583 122.5 L584.18 123.33 L585.39 124.19 L586.61 125.06 L587.82 125.94 L589 126.8 L590.12 127.64 L591.21 128.47 L592.29 129.3 L593.38 130.14 L594.5 131 L595.61 131.84 L596.69 132.65 L597.81 133.49 L599.06 134.42 L600.5 135.5 L602.22 136.75 L604.18 138.13 L606.24 139.61 L608.28 141.15 L610.2 142.7 L611.99 144.32 L613.74 146.02 L615.44 147.75 L617.06 149.43 L618.6 151 L619.98 152.41 L621.22 153.7 L622.41 154.96 L623.67 156.23 L625.1 157.6 L626.81 159.15 L628.74 160.84 L630.71 162.52 L632.55 164.09 L634.1 165.4 L635.28 166.39 L636.21 167.15 L636.99 167.77 L637.72 168.35 L638.5 169 L639.33 169.69 L640.13 170.37 L640.92 171.05 L641.71 171.75 L642.5 172.5 L643.32 173.31 L644.15 174.17 L644.97 175.05 L645.76 175.93 L646.5 176.8 L647.18 177.66 L647.81 178.52 L648.4 179.38 L648.96 180.21 L649.5 181 L650.02 181.76 L650.53 182.49 L651 183.19 L651.43 183.86 L651.8 184.5 L652.11 185.13 L652.38 185.77 L652.6 186.35 L652.77 186.85 L652.9 187.2" fill="none" stroke="#fd3c06" stroke-width="1.5" stroke-linejoin="round"/>
<path d="M413.6 112.7 L413.89 112.62 L414.3 112.5 L414.78 112.37 L415.27 112.29 L415.7 112.3 L416.08 112.43 L416.44 112.64 L416.79 112.9 L417.14 113.16 L417.5 113.4 L417.86 113.64 L418.22 113.9 L418.59 114.14 L418.95 114.32 L419.3 114.4 L419.65 114.36 L419.99 114.23 L420.33 114.03 L420.67 113.78 L421 113.5 L421.33 113.18 L421.66 112.81 L421.98 112.4 L422.29 111.96 L422.6 111.5 L422.9 111.01 L423.19 110.48 L423.48 109.94 L423.75 109.37 L424 108.8 L424.22 108.25 L424.42 107.71 L424.6 107.14 L424.79 106.52 L425 105.8 L425.23 104.96 L425.47 104.02 L425.72 103.02 L425.96 102 L426.2 101 L426.42 100.03 L426.64 99.06 L426.85 98.08 L427.07 97.07 L427.3 96 L427.55 94.86 L427.8 93.67 L428.06 92.45 L428.33 91.22 L428.6 90 L428.88 88.79 L429.16 87.58 L429.44 86.36 L429.72 85.17 L430 84 L430.26 82.88 L430.52 81.79 L430.78 80.71 L431.04 79.62 L431.3 78.5 L431.57 77.33 L431.85 76.14 L432.13 74.92 L432.41 73.71 L432.7 72.5 L432.99 71.3 L433.29 70.1 L433.59 68.9 L433.89 67.7 L434.2 66.5 L434.51 65.33 L434.82 64.2 L435.14 63.05 L435.47 61.83 L435.8 60.5 L436.14 58.99 L436.48 57.33 L436.83 55.62 L437.2 53.94 L437.6 52.4 L438.03 50.99 L438.48 49.65 L438.96 48.38 L439.43 47.16 L439.9 46 L440.35 44.89 L440.8 43.83 L441.24 42.83 L441.71 41.89 L442.2 41 L442.72 40.16 L443.25 39.36 L443.81 38.63 L444.39 37.97 L445 37.4 L445.66 36.9 L446.35 36.46 L447.07 36.11 L447.79 35.88 L448.5 35.8 L449.19 35.86 L449.88 36.05 L450.56 36.37 L451.27 36.85 L452 37.5 L452.78 38.38 L453.59 39.49 L454.41 40.72 L455.22 41.99 L456 43.2 L456.73 44.34 L457.44 45.46 L458.13 46.6 L458.81 47.77 L459.5 49 L460.19 50.31 L460.89 51.7 L461.58 53.11 L462.25 54.52 L462.9 55.9 L463.51 57.23 L464.1 58.53 L464.67 59.83 L465.23 61.15 L465.8 62.5 L466.37 63.96 L466.95 65.5 L467.51 67.04 L468.07 68.47 L468.6 69.7 L469.11 70.72 L469.6 71.59 L470.07 72.33 L470.54 72.96 L471 73.5 L471.44 73.94 L471.87 74.28 L472.29 74.52 L472.72 74.66 L473.2 74.7 L473.73 74.63 L474.29 74.46 L474.87 74.19 L475.45 73.86 L476 73.5 L476.51 73.09 L477.01 72.63 L477.49 72.11 L477.99 71.57 L478.5 71 L479.03 70.42 L479.58 69.81 L480.14 69.17 L480.71 68.5 L481.3 67.8 L481.91 67.02 L482.54 66.16 L483.18 65.29 L483.83 64.48 L484.5 63.8 L485.19 63.21 L485.9 62.68 L486.62 62.24 L487.33 61.93 L488 61.8 L488.64 61.85 L489.25 62.06 L489.84 62.4 L490.42 62.89 L491 63.5 L491.57 64.27 L492.14 65.21 L492.7 66.27 L493.25 67.38 L493.8 68.5 L494.34 69.62 L494.87 70.79 L495.4 72 L495.94 73.24 L496.5 74.5 L497.07 75.77 L497.65 77.05 L498.25 78.37 L498.86 79.75 L499.5 81.2 L500.18 82.78 L500.91 84.47 L501.65 86.2 L502.36 87.9 L503 89.5 L503.55 90.95 L504.04 92.3 L504.5 93.62 L504.97 94.99 L505.5 96.5 L506.11 98.23 L506.77 100.12 L507.45 102.06 L508.11 103.89 L508.7 105.5 L509.22 106.85 L509.68 108.02 L510.12 109.07 L510.55 110.05 L511 111 L511.44 111.88 L511.84 112.66 L512.26 113.41 L512.76 114.2 L513.4 115.1 L514.19 116.2 L515.1 117.45 L516.1 118.72 L517.14 119.88 L518.2 120.8 L519.32 121.44 L520.52 121.9 L521.73 122.22 L522.88 122.46 L523.9 122.7 L524.75 122.91 L525.47 123.04 L526.12 123.14 L526.78 123.21 L527.5 123.3 L528.28 123.4 L529.09 123.5 L529.91 123.59 L530.75 123.66 L531.6 123.7 L532.42 123.72 L533.21 123.72 L534.04 123.71 L534.95 123.67 L536 123.6 L537.26 123.5 L538.68 123.35 L540.18 123.19 L541.65 123.04 L543 122.9 L544.19 122.78 L545.28 122.67 L546.34 122.57 L547.39 122.48 L548.5 122.4 L549.7 122.35 L550.96 122.34 L552.22 122.32 L553.42 122.29 L554.5 122.2 L555.43 122.04 L556.24 121.84 L557 121.61 L557.73 121.39 L558.5 121.2 L559.31 121.04 L560.12 120.87 L560.94 120.73 L561.73 120.64 L562.5 120.6 L563.23 120.64 L563.94 120.73 L564.63 120.87 L565.31 121.04 L566 121.2 L566.68 121.35 L567.33 121.51 L567.99 121.69 L568.68 121.91 L569.4 122.2 L570.18 122.56 L570.99 122.97 L571.83 123.44 L572.68 123.95 L573.5 124.5 L574.28 125.09 L575.04 125.72 L575.8 126.4 L576.61 127.13 L577.5 127.9 L578.5 128.74 L579.57 129.65 L580.69 130.6 L581.84 131.56 L583 132.5 L584.18 133.43 L585.39 134.36 L586.61 135.3 L587.82 136.21 L589 137.1 L590.12 137.95 L591.21 138.78 L592.29 139.59 L593.38 140.39 L594.5 141.2 L595.64 141.99 L596.77 142.76 L597.94 143.53 L599.17 144.34 L600.5 145.2 L601.95 146.12 L603.5 147.09 L605.11 148.09 L606.76 149.13 L608.4 150.2 L610.05 151.27 L611.73 152.35 L613.42 153.47 L615.12 154.67 L616.8 156 L618.53 157.53 L620.31 159.25 L622.07 161.01 L623.69 162.71 L625.1 164.2 L626.23 165.46 L627.13 166.56 L627.91 167.57 L628.67 168.53 L629.5 169.5 L630.42 170.47 L631.37 171.41 L632.32 172.33 L633.24 173.22 L634.1 174.1 L634.89 174.95 L635.63 175.76 L636.34 176.56 L637.02 177.36 L637.7 178.2 L638.39 179.07 L639.07 179.97 L639.73 180.88 L640.35 181.79 L640.9 182.7 L641.39 183.67 L641.84 184.72 L642.24 185.72 L642.56 186.59 L642.8 187.2" fill="none" stroke="#247afd" stroke-width="1.5" stroke-linejoin="round"/>
</g>
<g clip-path="url(#cbl)">
<rect x="69.7" y="219.2" width="18.63" height="158.2" fill="url(#hatch)" stroke="#d6deeb" stroke-width="1.2"/>
<rect x="250.21" y="219.2" width="105.59" height="158.2" fill="url(#hatch)" stroke="#d6deeb" stroke-width="1.2"/>
<path d="M88.8 260.9 L88.85 261.15 L88.92 261.65 L89.01 262.03 L89.13 261.93 L89.3 261 L89.51 261.58 L89.75 262 L90.02 262.21 L90.34 262.16 L90.7 261.8 L91.13 267.35 L91.62 273.38 L92.14 278.25 L92.65 279.49 L93.1 281.07 L93.47 282.92 L93.8 284.95 L94.1 287.21 L94.43 289.78 L94.8 292.73 L95.24 295.8 L95.71 298.92 L96.21 302.25 L96.71 305.55 L97.2 308.6 L97.68 313.04 L98.16 317.44 L98.65 321.71 L99.13 325.76 L99.6 329.5 L100.08 332.01 L100.56 334.32 L101.03 336.37 L101.48 338.07 L101.9 339.33 L102.28 339.63 L102.61 339.38 L102.93 338.81 L103.26 338.02 L103.6 337.1 L103.96 335.97 L104.32 334.56 L104.69 333 L105.08 331.41 L105.5 329.9 L105.93 328.44 L106.37 326.94 L106.83 325.47 L107.34 324.07 L107.9 322.8 L108.56 321.69 L109.31 320.71 L110.09 319.78 L110.84 318.61 L111.5 317.44 L112.06 316.38 L112.55 315.47 L113 314.51 L113.44 313.33 L113.9 311.74 L114.38 309.67 L114.86 307.26 L115.34 304.6 L115.82 301.76 L116.3 298.84 L116.78 295.74 L117.26 292.42 L117.74 289 L118.22 285.45 L118.7 281.88 L119.18 278.4 L119.66 274.91 L120.14 271.57 L120.62 268.51 L121.1 265.88 L121.57 263.8 L122.03 262.16 L122.49 260.81 L122.98 259.57 L123.5 258.28 L124.08 256.83 L124.7 255.7 L125.34 254.75 L125.98 254.24 L126.6 254.43 L127.2 256.04 L127.8 259.33 L128.39 263.02 L128.96 266.73 L129.5 270.1 L129.99 273.07 L130.44 275.88 L130.88 278.63 L131.32 280.86 L131.8 282.97 L132.31 285.15 L132.85 287.38 L133.4 289.63 L133.95 291.9 L134.5 294.17 L135.04 296.45 L135.58 298.75 L136.11 301.06 L136.65 303.34 L137.2 305.57 L137.75 307.72 L138.31 309.82 L138.87 311.89 L139.43 313.97 L140 316.1 L140.57 318.2 L141.15 320.56 L141.74 322.83 L142.32 324.63 L142.9 325.62 L143.46 325.71 L143.99 325.13 L144.54 324.02 L145.13 322.51 L145.8 320.74 L146.57 318.53 L147.42 315.81 L148.31 312.81 L149.22 309.78 L150.1 306.96 L150.98 304.15 L151.89 301.34 L152.78 298.61 L153.63 296.05 L154.4 293.74 L155.07 291.56 L155.67 289.23 L156.21 287.17 L156.75 285.48 L157.3 284.3 L157.86 284.65 L158.42 285.76 L158.98 287.11 L159.54 288.21 L160.1 288.53 L160.67 287.97 L161.25 286.86 L161.84 285.38 L162.42 283.7 L163 282 L163.59 279.84 L164.2 277.5 L164.8 275.04 L165.37 272.53 L165.9 270.03 L166.36 267.98 L166.76 266.07 L167.15 264.05 L167.55 261.75 L168 259 L168.53 255.02 L169.12 250.38 L169.73 245.53 L170.3 240.44 L170.8 235.7 L171.21 231.82 L171.57 228.46 L171.89 225.48 L172.19 222.9 L172.5 220.5 L172.81 217.99 L173.11 215.46 L173.41 213.16 L173.7 211.36 L174 210.3 L174.3 210.36 L174.61 211.08 L174.91 212.34 L175.21 214.02 L175.5 216 L175.77 218.46 L176.02 221.46 L176.28 224.76 L176.53 228.12 L176.8 231.3 L177.09 234.33 L177.4 237.38 L177.7 240.38 L178.01 243.24 L178.3 244.97 L178.56 246.89 L178.81 249.03 L179.05 250.91 L179.3 252.06 L179.6 252.01 L179.94 250.46 L180.33 247.7 L180.73 244.22 L181.12 240.49 L181.5 237 L181.85 235.38 L182.2 233.24 L182.54 231.17 L182.87 229.75 L183.2 229.59 L183.53 231.04 L183.86 233.71 L184.18 237.05 L184.49 240.52 L184.8 243.54 L185.07 245.89 L185.31 247.65 L185.55 249.35 L185.83 250.92 L186.2 252.3 L186.68 253.72 L187.25 255.21 L187.86 256.45 L188.46 257.83 L189 258.43 L189.48 257.68 L189.93 255.86 L190.36 253.46 L190.78 251 L191.2 248.98 L191.64 247.15 L192.08 245.19 L192.51 243.25 L192.92 241.7 L193.3 241.1 L193.64 241.73 L193.95 243.35 L194.24 245.55 L194.52 247.9 L194.8 250 L195.06 251.72 L195.29 253.35 L195.52 255.05 L195.79 257.01 L196.1 259.4 L196.48 262.57 L196.92 266.4 L197.38 270.38 L197.85 274.09 L198.3 277.15 L198.72 279.23 L199.13 280.72 L199.54 281.64 L199.96 282.04 L200.4 281.95 L200.88 281.23 L201.4 279.19 L201.92 276.52 L202.43 273.69 L202.9 270.97 L203.33 268.26 L203.73 265.36 L204.11 262.45 L204.47 259.69 L204.8 257.25 L205.1 255.08 L205.35 253.11 L205.59 251.5 L205.84 250.2 L206.1 249.3 L206.38 249.07 L206.66 249.46 L206.95 250.04 L207.26 250.43 L207.6 250.2 L207.97 249.16 L208.37 247.59 L208.78 245.77 L209.2 244.01 L209.6 242.6 L209.99 241.46 L210.37 240.4 L210.74 239.53 L211.12 238.78 L211.5 238.1 L211.87 237.84 L212.22 237.95 L212.58 238.38 L212.96 239.12 L213.4 240.14 L213.92 241.67 L214.49 243.71 L215.09 245.94 L215.68 248.03 L216.2 250.25 L216.65 252.84 L217.06 255.09 L217.45 256.97 L217.82 258.43 L218.2 259.45 L218.59 259.87 L218.97 259.71 L219.34 259.21 L219.72 258.59 L220.1 257.98 L220.48 256.99 L220.86 255.73 L221.24 254.53 L221.62 253.76 L222 253.77 L222.36 254.65 L222.71 256.19 L223.07 258.22 L223.46 260.56 L223.9 263.05 L224.42 265.92 L224.99 269.28 L225.6 272.79 L226.21 274.81 L226.8 273.96 L227.38 272.63 L227.97 270.92 L228.55 268.97 L229.1 266.9 L229.6 265.96 L230.02 266.55 L230.38 266.99 L230.71 267.09 L231.07 266.66 L231.5 265.5 L232.03 263.25 L232.64 260.03 L233.26 257.26 L233.87 255.2 L234.4 253.67 L234.83 252.63 L235.18 251.78 L235.52 251.18 L235.87 250.9 L236.3 251 L236.83 249.47 L237.44 248.02 L238.06 246.81 L238.67 246.01 L239.2 245.79 L239.65 246.42 L240.06 247.51 L240.43 248.8 L240.77 250.03 L241.1 250.75 L241.38 251.27 L241.61 251.89 L241.82 252.14 L242.07 251.49 L242.4 249.27 L242.83 245 L243.34 239.02 L243.89 232.34 L244.42 226.07 L244.9 223.34 L245.32 221.86 L245.7 221.12 L246.07 220.81 L246.43 220.65 L246.8 220.33 L247.19 219.69 L247.58 218.93 L247.98 217.51 L248.35 215.56 L248.7 214.36 L249.03 214.2 L249.36 214.86 L249.66 215.94 L249.92 217.02 L250.1 217.7 L250.1 288.7 L249.92 287.63 L249.66 286 L249.36 284.26 L249.03 282.88 L248.7 282.32 L248.35 282.76 L247.98 283.89 L247.58 284.62 L247.19 284.79 L246.8 284.86 L246.43 284.63 L246.07 284.27 L245.7 284.04 L245.32 284.21 L244.9 285.07 L244.42 287.1 L243.89 288.52 L243.34 290.11 L242.83 291.31 L242.4 291.52 L242.07 290.67 L241.82 290.2 L241.61 289.4 L241.38 288.22 L241.1 287 L240.77 285.46 L240.43 283.38 L240.06 281.16 L239.65 279.84 L239.2 280.5 L238.67 282.24 L238.06 284.77 L237.44 287.77 L236.83 290.95 L236.3 294 L235.87 294.15 L235.52 294.64 L235.18 295.43 L234.83 296.49 L234.4 297.79 L233.87 299.63 L233.26 302.05 L232.64 304.8 L232.03 307.5 L231.5 309.3 L231.07 310.09 L230.71 310.21 L230.38 309.83 L230.02 309.08 L229.6 308.13 L229.1 307.49 L228.55 306.97 L227.97 306.2 L227.38 305.13 L226.8 303.73 L226.21 301.8 L225.6 299.72 L224.99 297.63 L224.42 295.61 L223.9 293.95 L223.46 292.5 L223.07 291.06 L222.71 289.87 L222.36 289.14 L222 289.1 L221.62 289.98 L221.24 291.64 L220.86 293.72 L220.48 295.87 L220.1 297.75 L219.72 298.66 L219.34 299.38 L218.97 299.97 L218.59 300.22 L218.2 299.9 L217.82 298.98 L217.45 297.61 L217.06 295.83 L216.65 293.68 L216.2 291.2 L215.68 289.35 L215.09 287.85 L214.49 286.22 L213.92 284.75 L213.4 283.74 L212.96 283.16 L212.58 282.81 L212.22 282.73 L211.87 282.98 L211.5 283.6 L211.12 284.66 L210.74 285.48 L210.37 286.29 L209.99 287.28 L209.6 288.35 L209.2 289.7 L208.78 291.39 L208.37 293.13 L207.97 294.63 L207.6 295.6 L207.26 295.77 L206.95 295.33 L206.66 294.69 L206.38 294.26 L206.1 294.44 L205.84 295.29 L205.59 296.55 L205.35 298.12 L205.1 299.22 L204.8 300.16 L204.47 301.21 L204.11 302.48 L203.73 303.8 L203.33 305 L202.9 305.93 L202.43 306.69 L201.92 307.39 L201.4 307.86 L200.88 308.4 L200.4 309.86 L199.96 310.62 L199.54 310.86 L199.13 310.55 L198.72 309.69 L198.3 308.24 L197.85 305.86 L197.38 302.96 L196.92 299.85 L196.48 296.82 L196.1 294.36 L195.79 292.56 L195.52 291.08 L195.29 289.81 L195.06 288.62 L194.8 287.37 L194.52 285.79 L194.24 283.95 L193.95 282.29 L193.64 281.25 L193.3 281.25 L192.92 282.55 L192.51 284.87 L192.08 286.88 L191.64 288.22 L191.2 289.44 L190.78 290.88 L190.36 292.75 L189.93 294.55 L189.48 295.75 L189 295.83 L188.46 294.47 L187.86 292.55 L187.25 291.72 L186.68 290.6 L186.2 289.5 L185.83 288.36 L185.55 286.98 L185.31 285.45 L185.07 283.85 L184.8 282.34 L184.49 280.54 L184.18 278.34 L183.86 276.28 L183.53 274.92 L183.2 274.79 L182.87 276.27 L182.54 279.02 L182.2 282.45 L181.85 285.97 L181.5 289 L181.12 290.77 L180.73 292.68 L180.33 294.33 L179.94 295.35 L179.6 295.33 L179.3 294.02 L179.05 291.69 L178.81 288.71 L178.56 285.47 L178.3 282.34 L178.01 279.29 L177.7 275.79 L177.4 272.17 L177.09 268.51 L176.8 264.9 L176.53 261.19 L176.28 257.31 L176.02 253.51 L175.77 250.22 L175.5 247.5 L175.21 245.23 L174.91 243.25 L174.61 241.69 L174.3 240.67 L174 240.3 L173.7 240.76 L173.41 241.98 L173.11 243.68 L172.81 245.61 L172.5 247.5 L172.19 249.29 L171.89 251.14 L171.57 253.17 L171.21 255.46 L170.8 258.1 L170.3 261.34 L169.73 265.39 L169.12 269.94 L168.53 274.28 L168 278 L167.55 281.65 L167.15 284.75 L166.76 287.54 L166.36 290.26 L165.9 293.03 L165.37 295.53 L164.8 298.04 L164.2 300.5 L163.59 302.84 L163 305 L162.42 306.9 L161.84 308.77 L161.25 310.44 L160.67 311.74 L160.1 312.5 L159.54 312.38 L158.98 311.49 L158.42 310.34 L157.86 309.45 L157.3 309.3 L156.75 309.05 L156.21 309.34 L155.67 309.97 L155.07 310.74 L154.4 312.14 L153.63 313.68 L152.78 315.39 L151.89 317.23 L150.98 319.13 L150.1 321.06 L149.22 323.47 L148.31 326.13 L147.42 328.78 L146.57 331.16 L145.8 333.06 L145.13 334.57 L144.54 335.84 L143.99 336.73 L143.46 337.09 L142.9 336.78 L142.32 335.56 L141.74 333.52 L141.15 331.03 L140.57 328.43 L140 326.1 L139.43 324.35 L138.87 322.64 L138.31 320.94 L137.75 319.22 L137.2 317.43 L136.65 315.57 L136.11 313.65 L135.58 311.7 L135.04 309.76 L134.5 307.83 L133.95 305.93 L133.4 304.03 L132.85 302.14 L132.31 300.27 L131.8 298.43 L131.32 296.65 L130.88 294.99 L130.44 293.55 L129.99 292.09 L129.5 290.6 L128.96 288.84 L128.39 286.84 L127.8 284.92 L127.2 283.43 L126.6 281.9 L125.98 280.88 L125.34 280.54 L124.7 280.63 L124.08 280.93 L123.5 281.45 L122.98 281.86 L122.49 282.29 L122.03 282.87 L121.57 283.75 L121.1 285.05 L120.62 286.88 L120.14 289.13 L119.66 291.68 L119.18 294.37 L118.7 297.05 L118.22 299.82 L117.74 302.87 L117.26 306.05 L116.78 309.13 L116.3 311.99 L115.82 314.67 L115.34 317.27 L114.86 319.69 L114.38 321.86 L113.9 323.69 L113.44 325.05 L113 326.01 L112.55 326.74 L112.06 327.41 L111.5 328.19 L110.84 329.03 L110.09 329.82 L109.31 330.71 L108.56 331.69 L107.9 332.8 L107.34 334.07 L106.83 335.47 L106.37 336.94 L105.93 338.44 L105.5 339.9 L105.08 341.41 L104.69 343 L104.32 344.56 L103.96 345.97 L103.6 347.1 L103.26 348.02 L102.93 348.81 L102.61 349.38 L102.28 349.63 L101.9 349.5 L101.48 348.93 L101.03 347.99 L100.56 346.73 L100.08 345.21 L99.6 343.5 L99.13 341.34 L98.65 338.89 L98.16 336.23 L97.68 333.44 L97.2 330.6 L96.71 327.77 L96.21 324.7 L95.71 321.6 L95.24 318.69 L94.8 316.87 L94.43 316.03 L94.1 315.29 L93.8 314.77 L93.47 314.57 L93.1 314.83 L92.65 315.81 L92.14 317.44 L91.62 321.53 L91.13 326.15 L90.7 329.8 L90.34 330.42 L90.02 330.7 L89.75 330.69 L89.51 330.44 L89.3 330 L89.13 330.93 L89.01 331.03 L88.92 330.65 L88.85 330.15 L88.8 329.9 Z" fill="#b3b3d2" stroke="none"/>
<line x1="104.39" y1="218" x2="104.39" y2="377.4" stroke="#808080" stroke-width="1.1"/>
<line x1="128.2" y1="219" x2="128.2" y2="377.4" stroke="#808080" stroke-width="1.1" stroke-dasharray="4 1.85"/>
<line x1="143.2" y1="218" x2="143.2" y2="377.4" stroke="#808080" stroke-width="1.1"/>
<line x1="197.01" y1="219" x2="197.01" y2="377.4" stroke="#808080" stroke-width="1.1" stroke-dasharray="4 1.85"/>
<line x1="217.3" y1="218" x2="217.3" y2="377.4" stroke="#808080" stroke-width="1.1"/>
<path d="M88.8 291.9 L88.85 292.9 L88.92 294.34 L89.01 295.98 L89.13 297.61 L89.3 299 L89.51 300.17 L89.75 301.28 L90.02 302.29 L90.34 303.14 L90.7 303.8 L91.13 304.09 L91.62 304.04 L92.14 303.91 L92.65 303.98 L93.1 304.5 L93.47 305.48 L93.8 306.75 L94.1 308.3 L94.43 310.12 L94.8 312.2 L95.24 314.69 L95.71 317.6 L96.21 320.7 L96.71 323.77 L97.2 326.6 L97.68 329.23 L98.16 331.82 L98.65 334.28 L99.13 336.54 L99.6 338.5 L100.08 340.21 L100.56 341.73 L101.03 342.99 L101.48 343.93 L101.9 344.5 L102.28 344.63 L102.61 344.38 L102.93 343.81 L103.26 343.02 L103.6 342.1 L103.96 340.97 L104.32 339.56 L104.69 338 L105.08 336.41 L105.5 334.9 L105.93 333.44 L106.37 331.94 L106.83 330.47 L107.34 329.07 L107.9 327.8 L108.56 326.69 L109.31 325.71 L110.09 324.81 L110.84 323.92 L111.5 323 L112.06 322.16 L112.55 321.43 L113 320.64 L113.44 319.62 L113.9 318.2 L114.38 316.32 L114.86 314.09 L115.34 311.6 L115.82 308.94 L116.3 306.2 L116.78 303.29 L117.26 300.14 L117.74 296.9 L118.22 293.71 L118.7 290.7 L119.18 287.78 L119.66 284.85 L120.14 282.06 L120.62 279.57 L121.1 277.5 L121.57 275.96 L122.03 274.86 L122.49 274.04 L122.98 273.37 L123.5 272.7 L124.08 271.86 L124.7 270.93 L125.34 270.19 L125.98 269.9 L126.6 270.3 L127.2 271.63 L127.8 273.73 L128.39 276.23 L128.96 278.81 L129.5 281.1 L129.99 283.09 L130.44 284.99 L130.88 286.87 L131.32 288.75 L131.8 290.7 L132.31 292.71 L132.85 294.76 L133.4 296.83 L133.95 298.92 L134.5 301 L135.04 303.1 L135.58 305.23 L136.11 307.36 L136.65 309.45 L137.2 311.5 L137.75 313.47 L138.31 315.38 L138.87 317.27 L139.43 319.16 L140 321.1 L140.57 323.32 L141.15 325.8 L141.74 328.17 L142.32 330.09 L142.9 331.2 L143.46 331.4 L143.99 330.93 L144.54 329.93 L145.13 328.54 L145.8 326.9 L146.57 324.85 L147.42 322.29 L148.31 319.47 L149.22 316.63 L150.1 314 L150.98 311.54 L151.89 309.09 L152.78 306.72 L153.63 304.5 L154.4 302.5 L155.07 300.62 L155.67 298.81 L156.21 297.22 L156.75 296.01 L157.3 295.3 L157.86 295.45 L158.42 296.34 L158.98 297.49 L159.54 298.38 L160.1 298.5 L160.67 297.74 L161.25 296.44 L161.84 294.77 L162.42 292.9 L163 291 L163.59 289.04 L164.2 286.9 L164.8 284.64 L165.37 282.32 L165.9 280 L166.36 277.8 L166.76 275.69 L167.15 273.47 L167.55 270.97 L168 268 L168.53 264.28 L169.12 259.94 L169.73 255.39 L170.3 251.04 L170.8 247.3 L171.21 244.24 L171.57 241.6 L171.89 239.26 L172.19 237.1 L172.5 235 L172.81 232.8 L173.11 230.57 L173.41 228.57 L173.7 227.06 L174 226.3 L174.3 226.36 L174.61 227.08 L174.91 228.34 L175.21 230.02 L175.5 232 L175.77 234.46 L176.02 237.46 L176.28 240.76 L176.53 244.12 L176.8 247.3 L177.09 250.33 L177.4 253.38 L177.7 256.38 L178.01 259.27 L178.3 262 L178.56 264.82 L178.81 267.79 L179.05 270.49 L179.3 272.53 L179.6 273.5 L179.94 273.12 L180.33 271.67 L180.73 269.56 L181.12 267.2 L181.5 265 L181.85 262.57 L182.2 259.64 L182.54 256.8 L182.87 254.62 L183.2 253.7 L183.53 254.4 L183.86 256.32 L184.18 258.93 L184.49 261.67 L184.8 264 L185.07 265.94 L185.31 267.86 L185.55 269.71 L185.83 271.47 L186.2 273.1 L186.68 274.84 L187.25 276.71 L187.86 278.36 L188.46 279.41 L189 279.5 L189.48 278.3 L189.93 276.06 L190.36 273.27 L190.78 270.42 L191.2 268 L191.64 265.77 L192.08 263.4 L192.51 261.25 L192.92 259.7 L193.3 259.1 L193.64 259.73 L193.95 261.35 L194.24 263.55 L194.52 265.9 L194.8 268 L195.06 269.72 L195.29 271.35 L195.52 273.05 L195.79 275.01 L196.1 277.4 L196.48 280.57 L196.92 284.4 L197.38 288.38 L197.85 291.95 L198.3 294.6 L198.72 296.3 L199.13 297.42 L199.54 297.97 L199.96 297.99 L200.4 297.5 L200.88 296.33 L201.4 294.47 L201.92 292.17 L202.43 289.69 L202.9 287.3 L203.33 284.88 L203.73 282.27 L204.11 279.62 L204.47 277.11 L204.8 274.9 L205.1 272.94 L205.35 271.11 L205.59 269.5 L205.84 268.2 L206.1 267.3 L206.38 267.07 L206.66 267.46 L206.95 268.04 L207.26 268.43 L207.6 268.2 L207.97 267.16 L208.37 265.59 L208.78 263.77 L209.2 262.01 L209.6 260.6 L209.99 259.46 L210.37 258.4 L210.74 257.53 L211.12 256.96 L211.5 256.8 L211.87 257.06 L212.22 257.65 L212.58 258.59 L212.96 259.87 L213.4 261.5 L213.92 263.75 L214.49 266.6 L215.09 269.68 L215.68 272.57 L216.2 274.9 L216.65 276.7 L217.06 278.23 L217.45 279.44 L217.82 280.25 L218.2 280.6 L218.59 280.34 L218.97 279.52 L219.34 278.36 L219.72 277.08 L220.1 275.9 L220.48 274.59 L220.86 273.01 L221.24 271.5 L221.62 270.41 L222 270.1 L222.36 270.68 L222.71 271.93 L223.07 273.66 L223.46 275.68 L223.9 277.8 L224.42 280.24 L224.99 283.12 L225.6 286.12 L226.21 288.92 L226.8 291.2 L227.38 292.94 L227.97 294.36 L228.55 295.47 L229.1 296.31 L229.6 296.9 L230.02 297.37 L230.38 297.71 L230.71 297.72 L231.07 297.18 L231.5 295.9 L232.03 293.5 L232.64 290.11 L233.26 286.3 L233.87 282.64 L234.4 279.7 L234.83 277.52 L235.18 275.73 L235.52 274.25 L235.87 273.03 L236.3 272 L236.83 271.08 L237.44 270.32 L238.06 269.83 L238.67 269.72 L239.2 270.1 L239.65 271.26 L240.06 273.11 L240.43 275.24 L240.77 277.24 L241.1 278.7 L241.38 279.86 L241.61 280.99 L241.82 281.74 L242.07 281.73 L242.4 280.6 L242.83 277.77 L243.34 273.5 L243.89 268.63 L244.42 264.04 L244.9 260.6 L245.32 258.51 L245.7 257.2 L246.07 256.36 L246.43 255.66 L246.8 254.8 L247.19 253.59 L247.58 252.25 L247.98 251.04 L248.35 250.24 L248.7 250.1 L249.03 250.95 L249.36 252.62 L249.66 254.62 L249.92 256.47 L250.1 257.7" fill="none" stroke="#191970" stroke-width="2.3" stroke-linejoin="round" stroke-linecap="butt"/>
<path d="M315.66 357.47 L315.88 357.47 L316.1 357.47 L316.32 357.47 L316.54 357.47 L316.76 357.47 L316.99 357.47 L317.21 357.47 L317.43 357.47 L317.65 357.47 L317.87 357.47 L318.09 357.47 L318.31 357.47 L318.53 357.47 L318.75 357.47 L318.97 357.47 L319.19 357.47 L319.41 357.47 L319.63 357.47 L319.85 357.47 L320.07 357.47 L320.29 357.47 L320.51 357.47 L320.73 357.47 L320.95 357.47 L321.18 357.47 L321.4 357.47 L321.62 357.47 L321.84 357.47 L322.06 357.47 L322.28 357.47 L322.5 357.47 L322.72 357.47 L322.94 357.47 L323.16 357.47 L323.38 357.47 L323.6 357.47 L323.82 357.47 L324.04 357.47 L324.26 357.47 L324.48 357.47 L324.7 357.46 L324.92 357.46 L325.15 357.45 L325.37 357.44 L325.59 357.43 L325.81 357.42 L326.03 357.39 L326.25 357.36 L326.47 357.32 L326.69 357.26 L326.91 357.19 L327.13 357.1 L327.35 356.99 L327.57 356.84 L327.79 356.65 L328.01 356.42 L328.23 356.15 L328.45 355.81 L328.67 355.4 L328.89 354.92 L329.11 354.36 L329.34 353.71 L329.56 352.97 L329.78 352.13 L330 351.19 L330.22 350.15 L330.44 349.02 L330.66 347.81 L330.88 346.53 L331.1 345.19 L331.32 343.81 L331.54 342.42 L331.76 341.03 L331.98 339.69 L332.2 338.41 L332.42 337.23 L332.64 336.17 L332.86 335.27 L333.08 334.54 L333.31 334 L333.53 333.68 L333.75 333.56 L333.97 333.68 L334.19 334 L334.41 334.54 L334.63 335.27 L334.85 336.17 L335.07 337.23 L335.29 338.41 L335.51 339.69 L335.73 341.03 L335.95 342.42 L336.17 343.81 L336.39 345.19 L336.61 346.53 L336.83 347.81 L337.05 349.02 L337.27 350.15 L337.5 351.19 L337.72 352.13 L337.94 352.97 L338.16 353.71 L338.38 354.36 L338.6 354.92 L338.82 355.4 L339.04 355.81 L339.26 356.15 L339.48 356.42 L339.7 356.65 L339.92 356.84 L340.14 356.99 L340.36 357.1 L340.58 357.19 L340.8 357.26 L341.02 357.32 L341.24 357.36 L341.47 357.39 L341.69 357.42 L341.91 357.43 L342.13 357.44 L342.35 357.45 L342.57 357.46 L342.79 357.46 L343.01 357.47 L343.23 357.47 L343.45 357.47 L343.67 357.47 L343.89 357.47 L344.11 357.47 L344.33 357.47 L344.55 357.47 L344.77 357.47 L344.99 357.47 L345.21 357.47 L345.43 357.47 L345.66 357.47 L345.88 357.47 L346.1 357.47 L346.32 357.47 L346.54 357.47 L346.76 357.47 L346.98 357.47 L347.2 357.47 L347.42 357.47 L347.64 357.47 L347.86 357.47 L348.08 357.47 L348.3 357.47 L348.52 357.47 L348.74 357.47 L348.96 357.47 L349.18 357.47 L349.4 357.47 L349.62 357.47 L349.85 357.47 L350.07 357.47 L350.29 357.47 L350.51 357.47 L350.73 357.47 L350.95 357.47 L351.17 357.47 L351.39 357.47 L351.61 357.47 L351.83 357.47 L352.05 357.47 L352.27 357.47" fill="none" stroke="#1f70b0" stroke-width="2.3" stroke-linejoin="round"/>
</g>
<g clip-path="url(#cbr)">
<rect x="656.63" y="219.2" width="43.67" height="158.2" fill="url(#hatch)" stroke="#d6deeb" stroke-width="1.2"/>
<path d="M413.6 302 L413.79 302.27 L414.06 302.7 L414.38 303.12 L414.7 303.35 L415 303.2 L415.27 302.6 L415.53 301.68 L415.79 300.54 L416.05 299.28 L416.3 298 L416.54 296.66 L416.78 295.2 L417.02 293.68 L417.26 292.16 L417.5 290.7 L417.76 289.31 L418.02 287.93 L418.28 286.58 L418.54 285.27 L418.8 284 L419.05 282.74 L419.3 281.47 L419.54 280.27 L419.77 279.19 L420 278.3 L420.21 277.64 L420.41 277.16 L420.61 276.81 L420.8 276.54 L421 276.3 L421.2 276.08 L421.4 275.93 L421.6 275.84 L421.8 275.8 L422 275.8 L422.2 275.85 L422.41 275.94 L422.62 276.08 L422.82 276.27 L423 276.5 L423.15 276.71 L423.29 276.91 L423.41 277.17 L423.55 277.61 L423.7 278.3 L423.88 279.3 L424.08 280.56 L424.29 281.98 L424.5 283.49 L424.7 285 L424.9 286.56 L425.09 288.22 L425.28 289.91 L425.48 291.59 L425.7 293.2 L425.94 294.73 L426.2 296.23 L426.47 297.69 L426.74 299.11 L427 300.5 L427.24 301.86 L427.46 303.2 L427.68 304.49 L427.92 305.73 L428.2 306.9 L428.52 307.99 L428.87 309.02 L429.24 309.99 L429.62 310.91 L430 311.8 L430.36 312.62 L430.72 313.38 L431.09 314.1 L431.48 314.83 L431.9 315.6 L432.36 316.43 L432.86 317.3 L433.37 318.17 L433.89 319.02 L434.4 319.8 L434.86 320.47 L435.28 321.04 L435.72 321.6 L436.24 322.23 L436.9 323 L437.78 324 L438.84 325.19 L439.96 326.42 L441.02 325.02 L441.9 323.75 L442.53 323.48 L442.99 323.4 L443.39 323.29 L443.82 323.06 L444.4 322.6 L445.14 322.18 L445.99 322.79 L446.89 323.3 L447.81 323.62 L448.7 323.61 L449.54 323.22 L450.35 322.54 L451.18 321.64 L452.05 320.6 L453 319.5 L454.05 318.32 L455.17 316.94 L456.35 315.07 L457.53 313.11 L458.7 311.13 L459.88 308.98 L461.08 306.64 L462.28 304.3 L463.43 302.17 L464.5 300.45 L465.48 298.92 L466.4 297.48 L467.26 296.3 L468.06 295.28 L468.8 294.29 L469.43 293.23 L469.95 292.2 L470.44 291.32 L470.96 290.73 L471.6 290.59 L472.36 291.52 L473.18 293.58 L474.07 295.99 L475.01 298.48 L476 300.8 L477.06 303.03 L478.2 305.33 L479.37 307.6 L480.55 309.48 L481.7 310.84 L482.82 311.94 L483.95 312.84 L485.06 313.56 L486.15 314.12 L487.2 314.54 L488.19 314.87 L489.12 315.1 L490.03 315.14 L490.98 314.71 L492 313.93 L493.11 312.76 L494.28 311.25 L495.48 309.47 L496.7 307.48 L497.9 305.34 L499.09 302.98 L500.29 300.38 L501.5 297.61 L502.7 294.76 L503.9 291.94 L505.1 289.13 L506.3 286.28 L507.5 283.38 L508.7 280.44 L509.9 277.44 L511.12 274.21 L512.36 270.75 L513.59 267.32 L514.78 264.2 L515.9 261.64 L516.94 259.67 L517.91 258.13 L518.84 256.96 L519.76 256.09 L520.7 255.53 L521.64 255.27 L522.57 255.3 L523.5 255.62 L524.47 256.18 L525.5 256.97 L526.61 258.11 L527.78 259.59 L528.98 261.27 L530.2 262.95 L531.4 264.47 L532.57 265.77 L533.74 266.96 L534.91 268.13 L536.12 269.37 L537.4 270.77 L538.8 272.54 L540.31 274.61 L541.84 276.6 L543.29 278.27 L544.6 279.3 L545.69 279.51 L546.64 279.12 L547.51 278.38 L548.4 277.55 L549.4 276.9 L550.52 276.29 L551.72 275.54 L552.95 274.86 L554.19 274.44 L555.4 274.5 L556.6 275.2 L557.82 276.42 L559.02 277.88 L560.19 279.33 L561.3 280.5 L562.31 281.38 L563.24 282.13 L564.15 282.8 L565.08 283.41 L566.1 284 L567.24 284.63 L568.47 285.27 L569.73 285.84 L570.96 286.15 L572.1 286.19 L573.17 285.9 L574.21 285.35 L575.19 284.64 L576.09 283.92 L576.9 283.31 L577.54 282.85 L578.03 282.44 L578.47 282.05 L578.96 281.6 L579.6 281.04 L580.39 280.34 L581.26 279.55 L582.21 278.7 L583.26 277.82 L584.4 276.96 L585.67 276.09 L587.07 275.19 L588.54 274.33 L590.04 273.59 L591.5 273.08 L592.93 272.79 L594.37 272.65 L595.82 272.68 L597.26 272.91 L598.7 273.34 L600.14 274.06 L601.58 274.96 L603.02 276.02 L604.46 277.14 L605.9 278.21 L607.34 279.23 L608.78 280.29 L610.23 281.31 L611.67 282.09 L613.1 282.87 L614.58 283.74 L616.12 284.71 L617.62 285.63 L619.01 286.36 L620.2 286.76 L621.14 286.75 L621.89 286.34 L622.53 285.75 L623.14 285.17 L623.8 284.84 L624.5 284.94 L625.18 285.33 L625.87 285.72 L626.6 285.82 L627.4 285.32 L628.32 283.94 L629.35 281.86 L630.4 279.27 L631.37 276.49 L632.2 274.47 L632.81 273.55 L633.28 273.39 L633.67 273.48 L634.08 273.31 L634.6 272.37 L635.24 270.47 L635.95 267.93 L636.7 265.06 L637.46 262.19 L638.2 259.73 L638.92 257.96 L639.64 256.37 L640.36 254.83 L641.08 253.2 L641.8 251.33 L642.52 249.22 L643.24 246.94 L643.97 244.54 L644.69 240.88 L645.4 237.1 L646.12 233.08 L646.86 228.81 L647.58 224.53 L648.27 221.66 L648.9 220.8 L649.45 220 L649.94 219.17 L650.39 218.53 L650.84 218.33 L651.3 217.54 L651.79 216.88 L652.3 216.92 L652.8 217.38 L653.28 217.94 L653.7 218.3 L654.08 218.16 L654.44 218.06 L654.75 217.99 L655.01 217.94 L655.2 217.9 L655.2 299.9 L655.01 298.17 L654.75 295.8 L654.44 292.94 L654.08 289.72 L653.7 286.3 L653.28 283.59 L652.8 280.41 L652.3 277.16 L651.79 274.29 L651.3 272.21 L650.84 271.49 L650.39 272.14 L649.94 273.23 L649.45 274.55 L648.9 275.9 L648.27 277.38 L647.58 279.07 L646.86 280.82 L646.12 282.52 L645.4 284 L644.69 285.29 L643.97 286.53 L643.24 288.69 L642.52 290.72 L641.8 292.6 L641.08 294.23 L640.36 295.62 L639.64 296.92 L638.92 298.26 L638.2 299.8 L637.46 301.32 L636.7 302.95 L635.95 304.6 L635.24 305.99 L634.6 306.85 L634.08 306.94 L633.67 306.44 L633.28 305.71 L632.81 305.13 L632.2 305.05 L631.37 305.73 L630.4 306.91 L629.35 308.47 L628.32 309.93 L627.4 310.76 L626.6 310.78 L625.87 310.25 L625.18 309.44 L624.5 308.64 L623.8 308.12 L623.14 308.06 L622.53 308.26 L621.89 308.48 L621.14 308.44 L620.2 307.88 L619.01 306.96 L617.62 305.68 L616.12 304.16 L614.58 302.57 L613.1 301.11 L611.67 299.76 L610.23 298.4 L608.78 296.98 L607.34 295.57 L605.9 294.19 L604.46 292.76 L603.02 291.28 L601.58 289.85 L600.14 288.59 L598.7 287.8 L597.26 287.31 L595.82 287.04 L594.37 286.96 L592.93 287.06 L591.5 287.3 L590.04 287.76 L588.54 288.44 L587.07 289.26 L585.67 290.11 L584.4 290.8 L583.26 291.36 L582.21 291.95 L581.26 292.55 L580.39 293.11 L579.6 293.6 L578.96 293.99 L578.47 294.31 L578.03 294.59 L577.54 294.86 L576.9 295.15 L576.09 295.55 L575.19 296.03 L574.21 296.47 L573.17 296.75 L572.1 296.75 L570.96 296.4 L569.73 295.84 L568.47 295.27 L567.24 294.63 L566.1 294 L565.08 293.41 L564.15 292.8 L563.24 292.13 L562.31 291.38 L561.3 290.5 L560.19 289.33 L559.02 287.88 L557.82 286.42 L556.6 285.2 L555.4 284.5 L554.19 284.44 L552.95 284.86 L551.72 285.54 L550.52 286.29 L549.4 286.9 L548.4 287.55 L547.51 288.38 L546.64 289.12 L545.69 289.51 L544.6 289.3 L543.29 288.27 L541.84 286.6 L540.31 284.61 L538.8 282.6 L537.4 280.9 L536.12 279.57 L534.91 278.38 L533.74 277.27 L532.57 276.14 L531.4 274.9 L530.2 273.44 L528.98 271.82 L527.78 270.21 L526.61 268.78 L525.5 267.7 L524.47 266.96 L523.5 266.44 L522.57 266.17 L521.64 266.18 L520.7 266.5 L519.76 267.09 L518.84 267.92 L517.91 269.06 L516.94 270.57 L515.9 272.5 L514.78 275.03 L513.59 278.11 L512.36 281.49 L511.12 284.91 L509.9 288.1 L508.7 291.06 L507.5 293.97 L506.3 296.82 L505.1 299.63 L503.9 302.4 L502.7 305.19 L501.5 307.99 L500.29 310.72 L499.09 313.28 L497.9 315.6 L496.7 317.7 L495.48 319.66 L494.28 321.4 L493.11 322.86 L492 324 L490.98 324.75 L490.03 325.14 L489.12 325.37 L488.19 325.41 L487.2 325.38 L486.15 325.28 L485.06 325.04 L483.95 324.65 L482.82 324.09 L481.7 323.33 L480.55 322.31 L479.37 321.3 L478.2 320.36 L477.06 319.33 L476 318.3 L475.01 317.09 L474.07 315.66 L473.18 314.25 L472.36 313.11 L471.6 312.07 L470.96 311.4 L470.44 311.31 L469.95 311.56 L469.43 311.93 L468.8 312.17 L468.06 312.21 L467.26 312.21 L466.4 312.28 L465.48 312.54 L464.5 313.35 L463.43 314.86 L462.28 316.76 L461.08 318.85 L459.88 320.96 L458.7 322.87 L457.53 324.62 L456.35 326.34 L455.17 327.98 L454.05 329.51 L453 330.9 L452.05 332.19 L451.18 333.4 L450.35 334.47 L449.54 335.32 L448.7 335.87 L447.81 336.06 L446.89 335.93 L445.99 335.59 L445.14 335.15 L444.4 335.4 L443.82 335.67 L443.39 335.76 L442.99 335.73 L442.53 335.66 L441.9 335.15 L441.02 331.14 L439.96 326.42 L438.84 325.19 L437.78 324 L436.9 323 L436.24 322.23 L435.72 321.6 L435.28 321.04 L434.86 320.47 L434.4 319.8 L433.89 319.02 L433.37 318.17 L432.86 317.3 L432.36 316.43 L431.9 315.6 L431.48 314.83 L431.09 314.1 L430.72 313.38 L430.36 312.62 L430 311.8 L429.62 310.91 L429.24 309.99 L428.87 309.02 L428.52 307.99 L428.2 306.9 L427.92 305.73 L427.68 304.49 L427.46 303.2 L427.24 301.86 L427 300.5 L426.74 299.11 L426.47 297.69 L426.2 296.23 L425.94 294.73 L425.7 293.2 L425.48 291.59 L425.28 289.91 L425.09 288.22 L424.9 286.56 L424.7 285 L424.5 283.49 L424.29 281.98 L424.08 280.56 L423.88 279.3 L423.7 278.3 L423.55 277.61 L423.41 277.17 L423.29 276.91 L423.15 276.71 L423 276.5 L422.82 276.27 L422.62 276.08 L422.41 275.94 L422.2 275.85 L422 275.8 L421.8 275.8 L421.6 275.84 L421.4 275.93 L421.2 276.08 L421 276.3 L420.8 276.54 L420.61 276.81 L420.41 277.16 L420.21 277.64 L420 278.3 L419.77 279.19 L419.54 280.27 L419.3 281.47 L419.05 282.74 L418.8 284 L418.54 285.27 L418.28 286.58 L418.02 287.93 L417.76 289.31 L417.5 290.7 L417.26 292.16 L417.02 293.68 L416.78 295.2 L416.54 296.66 L416.3 298 L416.05 299.28 L415.79 300.54 L415.53 301.68 L415.27 302.6 L415 303.2 L414.7 303.35 L414.38 303.12 L414.06 302.7 L413.79 302.27 L413.6 302 Z" fill="#b3b3d2" stroke="none"/>
<path d="M413.2 285.7 L414.5 268.3 L417 251 L419.5 241 L422 239.7 L424 243.5 L425.7 260.9 L427.4 285.7 L429.4 300.7 L433.1 310.6 L436.9 318 L441.9 323 L442.5 335.5 L441.9 335.5 L436.9 330.5 L433.1 325.5 L429.4 321.8 L426.9 318 L424.4 310.6 L422.4 308.1 L420.7 310.6 L418.2 315.6 L415.7 320.6 L413.2 318 Z" fill="#b3b3d2"/>
<line x1="448.89" y1="218" x2="448.89" y2="377.4" stroke="#808080" stroke-width="1.1"/>
<line x1="472.7" y1="219" x2="472.7" y2="377.4" stroke="#808080" stroke-width="1.1" stroke-dasharray="4 1.85"/>
<line x1="487.7" y1="218" x2="487.7" y2="377.4" stroke="#808080" stroke-width="1.1"/>
<line x1="541.51" y1="219" x2="541.51" y2="377.4" stroke="#808080" stroke-width="1.1" stroke-dasharray="4 1.85"/>
<line x1="561.8" y1="218" x2="561.8" y2="377.4" stroke="#808080" stroke-width="1.1"/>
<path d="M413.6 302 L413.79 302.27 L414.06 302.7 L414.38 303.12 L414.7 303.35 L415 303.2 L415.27 302.6 L415.53 301.68 L415.79 300.54 L416.05 299.28 L416.3 298 L416.54 296.66 L416.78 295.2 L417.02 293.68 L417.26 292.16 L417.5 290.7 L417.76 289.31 L418.02 287.93 L418.28 286.58 L418.54 285.27 L418.8 284 L419.05 282.74 L419.3 281.47 L419.54 280.27 L419.77 279.19 L420 278.3 L420.21 277.64 L420.41 277.16 L420.61 276.81 L420.8 276.54 L421 276.3 L421.2 276.08 L421.4 275.93 L421.6 275.84 L421.8 275.8 L422 275.8 L422.2 275.85 L422.41 275.94 L422.62 276.08 L422.82 276.27 L423 276.5 L423.15 276.71 L423.29 276.91 L423.41 277.17 L423.55 277.61 L423.7 278.3 L423.88 279.3 L424.08 280.56 L424.29 281.98 L424.5 283.49 L424.7 285 L424.9 286.56 L425.09 288.22 L425.28 289.91 L425.48 291.59 L425.7 293.2 L425.94 294.73 L426.2 296.23 L426.47 297.69 L426.74 299.11 L427 300.5 L427.24 301.86 L427.46 303.2 L427.68 304.49 L427.92 305.73 L428.2 306.9 L428.52 307.99 L428.87 309.02 L429.24 309.99 L429.62 310.91 L430 311.8 L430.36 312.62 L430.72 313.38 L431.09 314.1 L431.48 314.83 L431.9 315.6 L432.36 316.43 L432.86 317.3 L433.37 318.17 L433.89 319.02 L434.4 319.8 L434.86 320.47 L435.28 321.04 L435.72 321.6 L436.24 322.23 L436.9 323 L437.78 324 L438.84 325.19 L439.96 326.42 L441.02 327.57 L441.9 328.5 L442.53 329.19 L442.99 329.73 L443.39 330.15 L443.82 330.49 L444.4 330.8 L445.14 331.14 L445.99 331.49 L446.89 331.74 L447.81 331.78 L448.7 331.5 L449.54 330.86 L450.35 329.93 L451.18 328.78 L452.05 327.48 L453 326.1 L454.05 324.61 L455.17 322.96 L456.35 321.2 L457.53 319.37 L458.7 317.5 L459.88 315.47 L461.08 313.25 L462.28 311.03 L463.43 309.02 L464.5 307.4 L465.48 306.26 L466.4 305.48 L467.26 304.92 L468.06 304.46 L468.8 304 L469.43 303.4 L469.95 302.73 L470.44 302.2 L470.96 301.99 L471.6 302.3 L472.36 303.29 L473.18 304.84 L474.07 306.69 L475.01 308.6 L476 310.3 L477.06 311.86 L478.2 313.46 L479.37 314.99 L480.55 316.37 L481.7 317.5 L482.82 318.37 L483.95 319.05 L485.06 319.55 L486.15 319.89 L487.2 320.1 L488.19 320.23 L489.12 320.28 L490.03 320.14 L490.98 319.75 L492 319 L493.11 317.86 L494.28 316.4 L495.48 314.66 L496.7 312.7 L497.9 310.6 L499.09 308.28 L500.29 305.72 L501.5 302.99 L502.7 300.19 L503.9 297.4 L505.1 294.63 L506.3 291.82 L507.5 288.97 L508.7 286.06 L509.9 283.1 L511.12 279.91 L512.36 276.49 L513.59 273.11 L514.78 270.03 L515.9 267.5 L516.94 265.57 L517.91 264.06 L518.84 262.92 L519.76 262.09 L520.7 261.5 L521.64 261.18 L522.57 261.17 L523.5 261.44 L524.47 261.96 L525.5 262.7 L526.61 263.78 L527.78 265.21 L528.98 266.82 L530.2 268.44 L531.4 269.9 L532.57 271.14 L533.74 272.27 L534.91 273.38 L536.12 274.57 L537.4 275.9 L538.8 277.6 L540.31 279.61 L541.84 281.6 L543.29 283.27 L544.6 284.3 L545.69 284.51 L546.64 284.12 L547.51 283.38 L548.4 282.55 L549.4 281.9 L550.52 281.29 L551.72 280.54 L552.95 279.86 L554.19 279.44 L555.4 279.5 L556.6 280.2 L557.82 281.42 L559.02 282.88 L560.19 284.33 L561.3 285.5 L562.31 286.38 L563.24 287.13 L564.15 287.8 L565.08 288.41 L566.1 289 L567.24 289.63 L568.47 290.27 L569.73 290.84 L570.96 291.24 L572.1 291.4 L573.17 291.22 L574.21 290.77 L575.19 290.16 L576.09 289.53 L576.9 289 L577.54 288.6 L578.03 288.25 L578.47 287.9 L578.96 287.5 L579.6 287 L580.39 286.38 L581.26 285.68 L582.21 284.92 L583.26 284.15 L584.4 283.4 L585.67 282.61 L587.07 281.76 L588.54 280.94 L590.04 280.26 L591.5 279.8 L592.93 279.56 L594.37 279.46 L595.82 279.54 L597.26 279.81 L598.7 280.3 L600.14 281.07 L601.58 282.12 L603.02 283.32 L604.46 284.59 L605.9 285.8 L607.34 286.97 L608.78 288.16 L610.23 289.38 L611.67 290.59 L613.1 291.8 L614.58 293.12 L616.12 294.55 L617.62 295.92 L619.01 297.06 L620.2 297.8 L621.14 297.98 L621.89 297.72 L622.53 297.25 L623.14 296.8 L623.8 296.6 L624.5 296.84 L625.18 297.37 L625.87 297.9 L626.6 298.14 L627.4 297.8 L628.32 296.6 L629.35 294.73 L630.4 292.62 L631.37 290.7 L632.2 289.4 L632.81 289.02 L633.28 289.26 L633.67 289.69 L634.08 289.88 L634.6 289.4 L635.24 288.06 L635.95 286.14 L636.7 283.93 L637.46 281.72 L638.2 279.8 L638.92 278.26 L639.64 276.92 L640.36 275.62 L641.08 274.23 L641.8 272.6 L642.52 270.72 L643.24 268.69 L643.97 266.53 L644.69 264.26 L645.4 261.9 L646.12 259.33 L646.86 256.53 L647.58 253.7 L648.27 251.02 L648.9 248.7 L649.45 246.62 L649.94 244.64 L650.39 242.95 L650.84 241.71 L651.3 241.1 L651.79 241.35 L652.3 242.34 L652.8 243.72 L653.28 245.16 L653.7 246.3 L654.08 247.18 L654.44 248.03 L654.75 248.8 L655.01 249.44 L655.2 249.9" fill="none" stroke="#191970" stroke-width="2.3" stroke-linejoin="round" stroke-linecap="butt"/>
<path d="M660.16 357.39 L660.38 357.38 L660.6 357.36 L660.82 357.35 L661.04 357.33 L661.26 357.31 L661.49 357.29 L661.71 357.26 L661.93 357.23 L662.15 357.2 L662.37 357.17 L662.59 357.13 L662.81 357.08 L663.03 357.04 L663.25 356.98 L663.47 356.92 L663.69 356.86 L663.91 356.79 L664.13 356.71 L664.35 356.62 L664.57 356.53 L664.79 356.42 L665.01 356.31 L665.23 356.19 L665.45 356.06 L665.68 355.91 L665.9 355.76 L666.12 355.59 L666.34 355.41 L666.56 355.22 L666.78 355.01 L667 354.78 L667.22 354.55 L667.44 354.29 L667.66 354.02 L667.88 353.73 L668.1 353.43 L668.32 353.11 L668.54 352.77 L668.76 352.41 L668.98 352.04 L669.2 351.65 L669.42 351.24 L669.65 350.81 L669.87 350.36 L670.09 349.9 L670.31 349.42 L670.53 348.93 L670.75 348.42 L670.97 347.89 L671.19 347.36 L671.41 346.81 L671.63 346.25 L671.85 345.68 L672.07 345.1 L672.29 344.51 L672.51 343.92 L672.73 343.33 L672.95 342.74 L673.17 342.14 L673.39 341.55 L673.61 340.97 L673.84 340.39 L674.06 339.82 L674.28 339.26 L674.5 338.72 L674.72 338.19 L674.94 337.68 L675.16 337.19 L675.38 336.73 L675.6 336.29 L675.82 335.88 L676.04 335.49 L676.26 335.14 L676.48 334.82 L676.7 334.53 L676.92 334.28 L677.14 334.06 L677.36 333.88 L677.58 333.75 L677.81 333.65 L678.03 333.59 L678.25 333.56 L678.47 333.59 L678.69 333.65 L678.91 333.75 L679.13 333.88 L679.35 334.06 L679.57 334.28 L679.79 334.53 L680.01 334.82 L680.23 335.14 L680.45 335.49 L680.67 335.88 L680.89 336.29 L681.11 336.73 L681.33 337.19 L681.55 337.68 L681.77 338.19 L682 338.72 L682.22 339.26 L682.44 339.82 L682.66 340.39 L682.88 340.97 L683.1 341.55 L683.32 342.14 L683.54 342.74 L683.76 343.33 L683.98 343.92 L684.2 344.51 L684.42 345.1 L684.64 345.68 L684.86 346.25 L685.08 346.81 L685.3 347.36 L685.52 347.89 L685.74 348.42 L685.97 348.93 L686.19 349.42 L686.41 349.9 L686.63 350.36 L686.85 350.81 L687.07 351.24 L687.29 351.65 L687.51 352.04 L687.73 352.41 L687.95 352.77 L688.17 353.11 L688.39 353.43 L688.61 353.73 L688.83 354.02 L689.05 354.29 L689.27 354.55 L689.49 354.78 L689.71 355.01 L689.93 355.22 L690.16 355.41 L690.38 355.59 L690.6 355.76 L690.82 355.91 L691.04 356.06 L691.26 356.19 L691.48 356.31 L691.7 356.42 L691.92 356.53 L692.14 356.62 L692.36 356.71 L692.58 356.79 L692.8 356.86 L693.02 356.92 L693.24 356.98 L693.46 357.04 L693.68 357.08 L693.9 357.13 L694.12 357.17 L694.35 357.2 L694.57 357.23 L694.79 357.26 L695.01 357.29 L695.23 357.31 L695.45 357.33 L695.67 357.35 L695.89 357.36 L696.11 357.38 L696.33 357.39 L696.55 357.4 L696.77 357.41" fill="none" stroke="#1f70b0" stroke-width="2.3" stroke-linejoin="round"/>
</g>
<text transform="translate(85.04 103.36) rotate(-90)" font-size="10.3" fill="#000" stroke="#000" stroke-width="0.3" textLength="19.68" lengthAdjust="spacingAndGlyphs" font-family="Liberation Sans, sans-serif">D15</text>
<text transform="translate(108.99 66.91) rotate(-90)" font-size="10.3" fill="#808080" stroke="#808080" stroke-width="0.3" textLength="18.06" lengthAdjust="spacingAndGlyphs" font-family="Liberation Sans, sans-serif">B40</text>
<text transform="translate(131.79 68.92) rotate(-90)" font-size="10.3" fill="#000" stroke="#000" stroke-width="0.3" textLength="18.83" lengthAdjust="spacingAndGlyphs" font-family="Liberation Sans, sans-serif">D67</text>
<text transform="translate(147.69 95.26) rotate(-90)" font-size="10.3" fill="#808080" stroke="#808080" stroke-width="0.3" textLength="19.18" lengthAdjust="spacingAndGlyphs" font-family="Liberation Sans, sans-serif">B84</text>
<text transform="translate(199.69 96.95) rotate(-90)" font-size="10.3" fill="#000" stroke="#000" stroke-width="0.3" textLength="25.38" lengthAdjust="spacingAndGlyphs" font-family="Liberation Sans, sans-serif">D145</text>
<text transform="translate(220.49 99.17) rotate(-90)" font-size="10.3" fill="#808080" stroke="#808080" stroke-width="0.3" textLength="25.52" lengthAdjust="spacingAndGlyphs" font-family="Liberation Sans, sans-serif">B168</text>
<text transform="translate(429.54 68.84) rotate(-90)" font-size="10.3" fill="#000" stroke="#000" stroke-width="0.3" textLength="19.36" lengthAdjust="spacingAndGlyphs" font-family="Liberation Sans, sans-serif">D15</text>
<text transform="translate(453.49 66.91) rotate(-90)" font-size="10.3" fill="#808080" stroke="#808080" stroke-width="0.3" textLength="18.06" lengthAdjust="spacingAndGlyphs" font-family="Liberation Sans, sans-serif">B40</text>
<text transform="translate(476.59 51.84) rotate(-90)" font-size="10.3" fill="#000" stroke="#000" stroke-width="0.3" textLength="19.37" lengthAdjust="spacingAndGlyphs" font-family="Liberation Sans, sans-serif">D67</text>
<text transform="translate(492.14 95.39) rotate(-90)" font-size="10.3" fill="#808080" stroke="#808080" stroke-width="0.3" textLength="19.82" lengthAdjust="spacingAndGlyphs" font-family="Liberation Sans, sans-serif">B84</text>
<text transform="translate(544.14 88.87) rotate(-90)" font-size="10.3" fill="#000" stroke="#000" stroke-width="0.3" textLength="25.91" lengthAdjust="spacingAndGlyphs" font-family="Liberation Sans, sans-serif">D145</text>
<text transform="translate(564.44 85.6) rotate(-90)" font-size="10.3" fill="#808080" stroke="#808080" stroke-width="0.3" textLength="26.26" lengthAdjust="spacingAndGlyphs" font-family="Liberation Sans, sans-serif">B168</text>
<rect x="69.1" y="26" width="286.7" height="159.85" fill="none" stroke="#000" stroke-width="1.25"/>
<rect x="69.1" y="218" width="286.7" height="159.4" fill="none" stroke="#000" stroke-width="1.25"/>
<rect x="413.6" y="26" width="286.7" height="159.85" fill="none" stroke="#000" stroke-width="1.25"/>
<rect x="413.6" y="218" width="286.7" height="159.4" fill="none" stroke="#000" stroke-width="1.25"/>
<path d="M69.1 185.85 V190.75 M69.1 377.4 V382.3 M113.21 185.85 V190.75 M113.21 377.4 V382.3 M157.32 185.85 V190.75 M157.32 377.4 V382.3 M201.42 185.85 V190.75 M201.42 377.4 V382.3 M245.53 185.85 V190.75 M245.53 377.4 V382.3 M289.64 185.85 V190.75 M289.64 377.4 V382.3 M333.75 185.85 V190.75 M333.75 377.4 V382.3 M66.3 185.85 H69.1 M66.3 180.68 H69.1 M66.3 176.3 H69.1 M66.3 172.52 H69.1 M66.3 169.18 H69.1 M64.2 166.19 H69.1 M66.3 146.52 H69.1 M66.3 135.02 H69.1 M66.3 126.86 H69.1 M66.3 120.53 H69.1 M66.3 115.36 H69.1 M66.3 110.98 H69.1 M66.3 107.2 H69.1 M66.3 103.85 H69.1 M64.2 100.87 H69.1 M66.3 81.2 H69.1 M66.3 69.7 H69.1 M66.3 61.54 H69.1 M66.3 55.21 H69.1 M66.3 50.04 H69.1 M66.3 45.66 H69.1 M66.3 41.88 H69.1 M66.3 38.53 H69.1 M64.2 35.55 H69.1 M64.2 357.47 H69.1 M64.2 317.62 H69.1 M64.2 277.77 H69.1 M64.2 237.93 H69.1 M413.6 185.85 V190.75 M413.6 377.4 V382.3 M457.71 185.85 V190.75 M457.71 377.4 V382.3 M501.82 185.85 V190.75 M501.82 377.4 V382.3 M545.92 185.85 V190.75 M545.92 377.4 V382.3 M590.03 185.85 V190.75 M590.03 377.4 V382.3 M634.14 185.85 V190.75 M634.14 377.4 V382.3 M678.25 185.85 V190.75 M678.25 377.4 V382.3 M410.8 185.85 H413.6 M410.8 180.68 H413.6 M410.8 176.3 H413.6 M410.8 172.52 H413.6 M410.8 169.18 H413.6 M408.7 166.19 H413.6 M410.8 146.52 H413.6 M410.8 135.02 H413.6 M410.8 126.86 H413.6 M410.8 120.53 H413.6 M410.8 115.36 H413.6 M410.8 110.98 H413.6 M410.8 107.2 H413.6 M410.8 103.85 H413.6 M408.7 100.87 H413.6 M410.8 81.2 H413.6 M410.8 69.7 H413.6 M410.8 61.54 H413.6 M410.8 55.21 H413.6 M410.8 50.04 H413.6 M410.8 45.66 H413.6 M410.8 41.88 H413.6 M410.8 38.53 H413.6 M408.7 35.55 H413.6 M408.7 357.47 H413.6 M408.7 317.62 H413.6 M408.7 277.77 H413.6 M408.7 237.93 H413.6" stroke="#000" stroke-width="1.0" fill="none"/>
<g font-family="Liberation Sans, sans-serif" fill="#000" stroke="#000" stroke-width="0.3">
<text x="69.1" y="206.25" font-size="14" text-anchor="middle" fill="#000" textLength="8.4" lengthAdjust="spacingAndGlyphs">0</text>
<text x="69.1" y="397.8" font-size="14" text-anchor="middle" fill="#000" textLength="8.4" lengthAdjust="spacingAndGlyphs">0</text>
<text x="113.21" y="206.25" font-size="14" text-anchor="middle" fill="#000" textLength="16.8" lengthAdjust="spacingAndGlyphs">50</text>
<text x="113.21" y="397.8" font-size="14" text-anchor="middle" fill="#000" textLength="16.8" lengthAdjust="spacingAndGlyphs">50</text>
<text x="157.32" y="206.25" font-size="14" text-anchor="middle" fill="#000" textLength="25.2" lengthAdjust="spacingAndGlyphs">100</text>
<text x="157.32" y="397.8" font-size="14" text-anchor="middle" fill="#000" textLength="25.2" lengthAdjust="spacingAndGlyphs">100</text>
<text x="201.42" y="206.25" font-size="14" text-anchor="middle" fill="#000" textLength="25.2" lengthAdjust="spacingAndGlyphs">150</text>
<text x="201.42" y="397.8" font-size="14" text-anchor="middle" fill="#000" textLength="25.2" lengthAdjust="spacingAndGlyphs">150</text>
<text x="245.53" y="206.25" font-size="14" text-anchor="middle" fill="#000" textLength="25.2" lengthAdjust="spacingAndGlyphs">200</text>
<text x="245.53" y="397.8" font-size="14" text-anchor="middle" fill="#000" textLength="25.2" lengthAdjust="spacingAndGlyphs">200</text>
<text x="289.64" y="206.25" font-size="14" text-anchor="middle" fill="#000" textLength="25.2" lengthAdjust="spacingAndGlyphs">250</text>
<text x="289.64" y="397.8" font-size="14" text-anchor="middle" fill="#000" textLength="25.2" lengthAdjust="spacingAndGlyphs">250</text>
<text x="333.75" y="206.25" font-size="14" text-anchor="middle" fill="#000" textLength="25.2" lengthAdjust="spacingAndGlyphs">300</text>
<text x="333.75" y="397.8" font-size="14" text-anchor="middle" fill="#000" textLength="25.2" lengthAdjust="spacingAndGlyphs">300</text>
<text x="58.3" y="362.47" font-size="14" text-anchor="end" fill="#000" textLength="20.99" lengthAdjust="spacingAndGlyphs">2.0</text>
<text x="58.3" y="322.62" font-size="14" text-anchor="end" fill="#000" textLength="20.99" lengthAdjust="spacingAndGlyphs">2.5</text>
<text x="58.3" y="282.77" font-size="14" text-anchor="end" fill="#000" textLength="20.99" lengthAdjust="spacingAndGlyphs">3.0</text>
<text x="58.3" y="242.93" font-size="14" text-anchor="end" fill="#000" textLength="20.99" lengthAdjust="spacingAndGlyphs">3.5</text>
<text x="36.27" y="40.05" font-size="14" fill="#000" textLength="15.24" lengthAdjust="spacingAndGlyphs">10</text>
<text x="53.17" y="35.1" font-size="9.8" fill="#000" textLength="4.52" lengthAdjust="spacingAndGlyphs">0</text>
<text x="27.22" y="105.37" font-size="14" fill="#000" textLength="14.57" lengthAdjust="spacingAndGlyphs">10</text>
<text x="44.3" y="100.42" font-size="9.8" fill="#000" textLength="11.35" lengthAdjust="spacingAndGlyphs">−1</text>
<text x="27.22" y="170.69" font-size="14" fill="#000" textLength="14.57" lengthAdjust="spacingAndGlyphs">10</text>
<text x="44.29" y="165.74" font-size="9.8" fill="#000" textLength="11.73" lengthAdjust="spacingAndGlyphs">−2</text>
<text x="413.6" y="206.25" font-size="14" text-anchor="middle" fill="#000" textLength="8.4" lengthAdjust="spacingAndGlyphs">0</text>
<text x="413.6" y="397.8" font-size="14" text-anchor="middle" fill="#000" textLength="8.4" lengthAdjust="spacingAndGlyphs">0</text>
<text x="457.71" y="206.25" font-size="14" text-anchor="middle" fill="#000" textLength="16.8" lengthAdjust="spacingAndGlyphs">50</text>
<text x="457.71" y="397.8" font-size="14" text-anchor="middle" fill="#000" textLength="16.8" lengthAdjust="spacingAndGlyphs">50</text>
<text x="501.82" y="206.25" font-size="14" text-anchor="middle" fill="#000" textLength="25.2" lengthAdjust="spacingAndGlyphs">100</text>
<text x="501.82" y="397.8" font-size="14" text-anchor="middle" fill="#000" textLength="25.2" lengthAdjust="spacingAndGlyphs">100</text>
<text x="545.92" y="206.25" font-size="14" text-anchor="middle" fill="#000" textLength="25.2" lengthAdjust="spacingAndGlyphs">150</text>
<text x="545.92" y="397.8" font-size="14" text-anchor="middle" fill="#000" textLength="25.2" lengthAdjust="spacingAndGlyphs">150</text>
<text x="590.03" y="206.25" font-size="14" text-anchor="middle" fill="#000" textLength="25.2" lengthAdjust="spacingAndGlyphs">200</text>
<text x="590.03" y="397.8" font-size="14" text-anchor="middle" fill="#000" textLength="25.2" lengthAdjust="spacingAndGlyphs">200</text>
<text x="634.14" y="206.25" font-size="14" text-anchor="middle" fill="#000" textLength="25.2" lengthAdjust="spacingAndGlyphs">250</text>
<text x="634.14" y="397.8" font-size="14" text-anchor="middle" fill="#000" textLength="25.2" lengthAdjust="spacingAndGlyphs">250</text>
<text x="678.25" y="206.25" font-size="14" text-anchor="middle" fill="#000" textLength="25.2" lengthAdjust="spacingAndGlyphs">300</text>
<text x="678.25" y="397.8" font-size="14" text-anchor="middle" fill="#000" textLength="25.2" lengthAdjust="spacingAndGlyphs">300</text>
<text x="402.8" y="362.47" font-size="14" text-anchor="end" fill="#000" textLength="20.99" lengthAdjust="spacingAndGlyphs">2.0</text>
<text x="402.8" y="322.62" font-size="14" text-anchor="end" fill="#000" textLength="20.99" lengthAdjust="spacingAndGlyphs">2.5</text>
<text x="402.8" y="282.77" font-size="14" text-anchor="end" fill="#000" textLength="20.99" lengthAdjust="spacingAndGlyphs">3.0</text>
<text x="402.8" y="242.93" font-size="14" text-anchor="end" fill="#000" textLength="20.99" lengthAdjust="spacingAndGlyphs">3.5</text>
<text x="380.77" y="40.05" font-size="14" fill="#000" textLength="15.24" lengthAdjust="spacingAndGlyphs">10</text>
<text x="397.68" y="35.1" font-size="9.8" fill="#000" textLength="4.52" lengthAdjust="spacingAndGlyphs">0</text>
<text x="371.72" y="105.37" font-size="14" fill="#000" textLength="14.57" lengthAdjust="spacingAndGlyphs">10</text>
<text x="388.8" y="100.42" font-size="9.8" fill="#000" textLength="11.35" lengthAdjust="spacingAndGlyphs">−1</text>
<text x="371.72" y="170.69" font-size="14" fill="#000" textLength="14.57" lengthAdjust="spacingAndGlyphs">10</text>
<text x="388.79" y="165.74" font-size="9.8" fill="#000" textLength="11.73" lengthAdjust="spacingAndGlyphs">−2</text>
</g>
<g font-family="Liberation Sans, sans-serif" fill="#000" stroke="#000" stroke-width="0.3">
<text x="212.45" y="9.6" font-size="14" text-anchor="middle" fill="#000" textLength="134.56" lengthAdjust="spacingAndGlyphs">High-resolution data</text>
<text x="556.95" y="9.6" font-size="14" text-anchor="middle" fill="#000" textLength="86.04" lengthAdjust="spacingAndGlyphs">Tapered data</text>
<text x="212.45" y="417" font-size="14" text-anchor="middle" fill="#000" textLength="75.21" lengthAdjust="spacingAndGlyphs">Radius (au)</text>
<text x="556.95" y="417" font-size="14" text-anchor="middle" fill="#000" textLength="75.21" lengthAdjust="spacingAndGlyphs">Radius (au)</text>
<text transform="translate(14.8 105.92) rotate(-90)" font-size="14" text-anchor="middle" textLength="114.66" lengthAdjust="spacingAndGlyphs">Relative intensity</text>
<text transform="translate(14.8 297.7) rotate(-90)" font-size="14" text-anchor="middle" textLength="118.01" lengthAdjust="spacingAndGlyphs">Spectral index (<tspan font-style="italic">α</tspan>)</text>
</g>
<rect x="251.4" y="32.9" width="97.8" height="42.4" rx="3.5" fill="#fff" fill-opacity="0.8" stroke="#d2d2d2" stroke-width="1.2"/>
<line x1="255.9" y1="43.3" x2="283.6" y2="43.3" stroke="#fd3c06" stroke-width="1.5"/>
<line x1="255.9" y1="62.5" x2="283.6" y2="62.5" stroke="#247afd" stroke-width="1.5"/>
<g font-family="Liberation Sans, sans-serif" fill="#000" stroke="#000" stroke-width="0.3">
<text x="294.2" y="48.3" font-size="14" text-anchor="start" fill="#000" textLength="50.9" lengthAdjust="spacingAndGlyphs">1.1 mm</text>
<text x="294.2" y="67.6" font-size="14" text-anchor="start" fill="#000" textLength="50.9" lengthAdjust="spacingAndGlyphs">2.1 mm</text>
</g>
<rect x="595.9" y="32.9" width="97.8" height="42.4" rx="3.5" fill="#fff" fill-opacity="0.8" stroke="#d2d2d2" stroke-width="1.2"/>
<line x1="600.4" y1="43.3" x2="628.1" y2="43.3" stroke="#fd3c06" stroke-width="1.5"/>
<line x1="600.4" y1="62.5" x2="628.1" y2="62.5" stroke="#247afd" stroke-width="1.5"/>
<g font-family="Liberation Sans, sans-serif" fill="#000" stroke="#000" stroke-width="0.3">
<text x="638.7" y="48.3" font-size="14" text-anchor="start" fill="#000" textLength="50.9" lengthAdjust="spacingAndGlyphs">1.1 mm</text>
<text x="638.7" y="67.6" font-size="14" text-anchor="start" fill="#000" textLength="50.9" lengthAdjust="spacingAndGlyphs">2.1 mm</text>
</g>
</svg></body></html>
